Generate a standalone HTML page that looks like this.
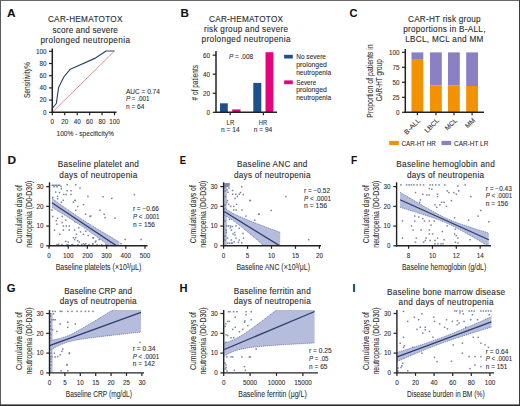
<!DOCTYPE html>
<html><head><meta charset="utf-8">
<style>
html,body{margin:0;padding:0;background:#fff;}
body{width:520px;height:406px;overflow:hidden;}
svg{display:block;font-family:"Liberation Sans",sans-serif;}
</style></head>
<body>
<svg width="520" height="406" viewBox="0 0 520 406">
<rect x="0" y="0" width="520" height="406" fill="#fff"/>
<text x="7.0" y="16.8" font-size="11.2" fill="#111" text-anchor="start" stroke="#111" stroke-width="0.08" font-weight="bold" textLength="8.6" lengthAdjust="spacingAndGlyphs" >A</text>
<text x="85.2" y="21.8" font-size="8.2" fill="#2e2e2e" text-anchor="middle" stroke="#2e2e2e" stroke-width="0.12" textLength="74.6" lengthAdjust="spacing" >CAR-HEMATOTOX</text>
<text x="85.2" y="33.0" font-size="8.2" fill="#2e2e2e" text-anchor="middle" stroke="#2e2e2e" stroke-width="0.12" textLength="65.4" lengthAdjust="spacing" >score and severe</text>
<text x="85.2" y="42.6" font-size="8.2" fill="#2e2e2e" text-anchor="middle" stroke="#2e2e2e" stroke-width="0.12" textLength="89.6" lengthAdjust="spacing" >prolonged neutropenia</text>
<line x1="52.3" y1="112.3" x2="114.5" y2="51.0" stroke="#d77a84" stroke-width="0.85" />
<polyline fill="none" stroke="#26466f" stroke-width="1.15" stroke-linejoin="round" points="52.3,112 52.3,108.5 56.3,103.5 58.6,87.5 63.8,77 70.3,69.2 94.8,58.4 106,51 114.5,51"/>
<line x1="52.3" y1="48.5" x2="52.3" y2="113.05" stroke="#222222" stroke-width="1.5" />
<line x1="51.55" y1="112.3" x2="116.5" y2="112.3" stroke="#222222" stroke-width="1.5" />
<line x1="49.0" y1="112.3" x2="52.3" y2="112.3" stroke="#222222" stroke-width="1.2" />
<text x="46.5" y="114.6" font-size="6.3" fill="#2e2e2e" text-anchor="end" stroke="#2e2e2e" stroke-width="0.08" >0</text>
<line x1="52.3" y1="112.3" x2="52.3" y2="115.3" stroke="#222222" stroke-width="1.2" />
<text x="52.3" y="124.3" font-size="6.3" fill="#2e2e2e" text-anchor="middle" stroke="#2e2e2e" stroke-width="0.08" >0</text>
<line x1="49.0" y1="100.1" x2="52.3" y2="100.1" stroke="#222222" stroke-width="1.2" />
<text x="46.5" y="102.39999999999999" font-size="6.3" fill="#2e2e2e" text-anchor="end" stroke="#2e2e2e" stroke-width="0.08" >20</text>
<line x1="64.74" y1="112.3" x2="64.74" y2="115.3" stroke="#222222" stroke-width="1.2" />
<text x="64.74" y="124.3" font-size="6.3" fill="#2e2e2e" text-anchor="middle" stroke="#2e2e2e" stroke-width="0.08" >20</text>
<line x1="49.0" y1="87.9" x2="52.3" y2="87.9" stroke="#222222" stroke-width="1.2" />
<text x="46.5" y="90.2" font-size="6.3" fill="#2e2e2e" text-anchor="end" stroke="#2e2e2e" stroke-width="0.08" >40</text>
<line x1="77.17999999999999" y1="112.3" x2="77.17999999999999" y2="115.3" stroke="#222222" stroke-width="1.2" />
<text x="77.17999999999999" y="124.3" font-size="6.3" fill="#2e2e2e" text-anchor="middle" stroke="#2e2e2e" stroke-width="0.08" >40</text>
<line x1="49.0" y1="75.69999999999999" x2="52.3" y2="75.69999999999999" stroke="#222222" stroke-width="1.2" />
<text x="46.5" y="77.99999999999999" font-size="6.3" fill="#2e2e2e" text-anchor="end" stroke="#2e2e2e" stroke-width="0.08" >60</text>
<line x1="89.62" y1="112.3" x2="89.62" y2="115.3" stroke="#222222" stroke-width="1.2" />
<text x="89.62" y="124.3" font-size="6.3" fill="#2e2e2e" text-anchor="middle" stroke="#2e2e2e" stroke-width="0.08" >60</text>
<line x1="49.0" y1="63.5" x2="52.3" y2="63.5" stroke="#222222" stroke-width="1.2" />
<text x="46.5" y="65.8" font-size="6.3" fill="#2e2e2e" text-anchor="end" stroke="#2e2e2e" stroke-width="0.08" >80</text>
<line x1="102.06" y1="112.3" x2="102.06" y2="115.3" stroke="#222222" stroke-width="1.2" />
<text x="102.06" y="124.3" font-size="6.3" fill="#2e2e2e" text-anchor="middle" stroke="#2e2e2e" stroke-width="0.08" >80</text>
<line x1="49.0" y1="51.3" x2="52.3" y2="51.3" stroke="#222222" stroke-width="1.2" />
<text x="46.5" y="53.599999999999994" font-size="6.3" fill="#2e2e2e" text-anchor="end" stroke="#2e2e2e" stroke-width="0.08" >100</text>
<line x1="114.5" y1="112.3" x2="114.5" y2="115.3" stroke="#222222" stroke-width="1.2" />
<text x="114.5" y="124.3" font-size="6.3" fill="#2e2e2e" text-anchor="middle" stroke="#2e2e2e" stroke-width="0.08" >100</text>
<text transform="translate(30.0,80.1) rotate(-90)" x="0" y="0" font-size="9" fill="#2e2e2e" text-anchor="middle" stroke="#2e2e2e" stroke-width="0.08" textLength="36" lengthAdjust="spacingAndGlyphs" >Sensitivity%</text>
<text x="85.2" y="135.6" font-size="7.8" fill="#2e2e2e" text-anchor="middle" stroke="#2e2e2e" stroke-width="0.08" textLength="57.5" lengthAdjust="spacingAndGlyphs" >100% - specificity%</text>
<text x="125.9" y="93.6" font-size="6.3" fill="#2e2e2e" text-anchor="start" stroke="#2e2e2e" stroke-width="0.08" textLength="34" lengthAdjust="spacingAndGlyphs" >AUC = 0.74</text>
<text x="125.9" y="101.3" font-size="6.3" fill="#2e2e2e" text-anchor="start" stroke="#2e2e2e" stroke-width="0.08" textLength="23.5" lengthAdjust="spacingAndGlyphs" ><tspan font-style="italic">P</tspan> = .001</text>
<text x="125.9" y="108.8" font-size="6.3" fill="#2e2e2e" text-anchor="start" stroke="#2e2e2e" stroke-width="0.08" textLength="18.6" lengthAdjust="spacingAndGlyphs" >n = 64</text>
<text x="180.4" y="16.6" font-size="11.2" fill="#111" text-anchor="start" stroke="#111" stroke-width="0.08" font-weight="bold" textLength="8.4" lengthAdjust="spacingAndGlyphs" >B</text>
<text x="246.0" y="22.1" font-size="8.2" fill="#2e2e2e" text-anchor="middle" stroke="#2e2e2e" stroke-width="0.12" textLength="74" lengthAdjust="spacing" >CAR-HEMATOTOX</text>
<text x="246.0" y="32.3" font-size="8.2" fill="#2e2e2e" text-anchor="middle" stroke="#2e2e2e" stroke-width="0.12" textLength="84" lengthAdjust="spacing" >risk group and severe</text>
<text x="246.0" y="42.3" font-size="8.2" fill="#2e2e2e" text-anchor="middle" stroke="#2e2e2e" stroke-width="0.12" textLength="89" lengthAdjust="spacing" >prolonged neutropenia</text>
<rect x="220.0" y="103.3" width="7.8" height="9.0" fill="#1d4f8b"/>
<rect x="232.2" y="109.4" width="8.3" height="2.8999999999999915" fill="#e4047f"/>
<rect x="253.3" y="82.9" width="8.0" height="29.39999999999999" fill="#1d4f8b"/>
<rect x="265.5" y="52.2" width="7.9" height="60.099999999999994" fill="#e4047f"/>
<line x1="216.0" y1="50.9" x2="216.0" y2="113.05" stroke="#222222" stroke-width="1.5" />
<line x1="215.25" y1="112.3" x2="277.0" y2="112.3" stroke="#222222" stroke-width="1.5" />
<line x1="212.7" y1="112.3" x2="216.0" y2="112.3" stroke="#222222" stroke-width="1.2" />
<text x="210.1" y="114.8" font-size="6.3" fill="#2e2e2e" text-anchor="end" stroke="#2e2e2e" stroke-width="0.08" >0</text>
<line x1="212.7" y1="93.25999999999999" x2="216.0" y2="93.25999999999999" stroke="#222222" stroke-width="1.2" />
<text x="210.1" y="95.75999999999999" font-size="6.3" fill="#2e2e2e" text-anchor="end" stroke="#2e2e2e" stroke-width="0.08" >20</text>
<line x1="212.7" y1="74.22" x2="216.0" y2="74.22" stroke="#222222" stroke-width="1.2" />
<text x="210.1" y="76.72" font-size="6.3" fill="#2e2e2e" text-anchor="end" stroke="#2e2e2e" stroke-width="0.08" >40</text>
<line x1="212.7" y1="55.18" x2="216.0" y2="55.18" stroke="#222222" stroke-width="1.2" />
<text x="210.1" y="57.68" font-size="6.3" fill="#2e2e2e" text-anchor="end" stroke="#2e2e2e" stroke-width="0.08" >60</text>
<line x1="230.2" y1="112.3" x2="230.2" y2="115.3" stroke="#222222" stroke-width="1.2" />
<line x1="263.4" y1="112.3" x2="263.4" y2="115.3" stroke="#222222" stroke-width="1.2" />
<text transform="translate(197.8,82.7) rotate(-90)" x="0" y="0" font-size="8.6" fill="#2e2e2e" text-anchor="middle" stroke="#2e2e2e" stroke-width="0.08" textLength="35.4" lengthAdjust="spacingAndGlyphs" ># of patients</text>
<text x="241.0" y="59.2" font-size="6.3" fill="#2e2e2e" text-anchor="middle" stroke="#2e2e2e" stroke-width="0.08" textLength="24" lengthAdjust="spacingAndGlyphs" ><tspan font-style="italic">P</tspan> = .008</text>
<text x="230.4" y="124.6" font-size="6.3" fill="#2e2e2e" text-anchor="middle" stroke="#2e2e2e" stroke-width="0.08" textLength="7.7" lengthAdjust="spacingAndGlyphs" >LR</text>
<text x="230.3" y="131.9" font-size="6.3" fill="#2e2e2e" text-anchor="middle" stroke="#2e2e2e" stroke-width="0.08" textLength="18.5" lengthAdjust="spacingAndGlyphs" >n = 14</text>
<text x="263.0" y="124.6" font-size="6.3" fill="#2e2e2e" text-anchor="middle" stroke="#2e2e2e" stroke-width="0.08" textLength="8.3" lengthAdjust="spacingAndGlyphs" >HR</text>
<text x="263.0" y="131.9" font-size="6.3" fill="#2e2e2e" text-anchor="middle" stroke="#2e2e2e" stroke-width="0.08" textLength="18.5" lengthAdjust="spacingAndGlyphs" >n = 94</text>
<rect x="284.1" y="54.8" width="8.7" height="3.7" fill="#1d4f8b"/>
<rect x="284.1" y="80.4" width="8.7" height="3.8" fill="#e4047f"/>
<text x="296.2" y="59.3" font-size="6.6" fill="#2e2e2e" text-anchor="start" stroke="#2e2e2e" stroke-width="0.08" textLength="29.8" lengthAdjust="spacingAndGlyphs" >No severe</text>
<text x="296.2" y="67.0" font-size="6.6" fill="#2e2e2e" text-anchor="start" stroke="#2e2e2e" stroke-width="0.08" textLength="30.7" lengthAdjust="spacingAndGlyphs" >prolonged</text>
<text x="296.2" y="74.5" font-size="6.6" fill="#2e2e2e" text-anchor="start" stroke="#2e2e2e" stroke-width="0.08" textLength="35" lengthAdjust="spacingAndGlyphs" >neutropenia</text>
<text x="296.2" y="84.5" font-size="6.6" fill="#2e2e2e" text-anchor="start" stroke="#2e2e2e" stroke-width="0.08" textLength="20" lengthAdjust="spacingAndGlyphs" >Severe</text>
<text x="296.2" y="92.3" font-size="6.6" fill="#2e2e2e" text-anchor="start" stroke="#2e2e2e" stroke-width="0.08" textLength="30.7" lengthAdjust="spacingAndGlyphs" >prolonged</text>
<text x="296.2" y="99.8" font-size="6.6" fill="#2e2e2e" text-anchor="start" stroke="#2e2e2e" stroke-width="0.08" textLength="35" lengthAdjust="spacingAndGlyphs" >neutropenia</text>
<text x="349.40000000000003" y="16.8" font-size="11.2" fill="#111" text-anchor="start" stroke="#111" stroke-width="0.08" font-weight="bold" textLength="8.0" lengthAdjust="spacingAndGlyphs" >C</text>
<text x="444.3" y="21.9" font-size="8.2" fill="#2e2e2e" text-anchor="middle" stroke="#2e2e2e" stroke-width="0.12" textLength="72.5" lengthAdjust="spacing" >CAR-HT risk group</text>
<text x="444.3" y="32.1" font-size="8.2" fill="#2e2e2e" text-anchor="middle" stroke="#2e2e2e" stroke-width="0.12" textLength="82.3" lengthAdjust="spacing" >proportions in B-ALL,</text>
<text x="444.3" y="42.4" font-size="8.2" fill="#2e2e2e" text-anchor="middle" stroke="#2e2e2e" stroke-width="0.12" textLength="78.2" lengthAdjust="spacing" >LBCL, MCL and MM</text>
<rect x="411.5" y="52.4" width="11.8" height="7.399999999999999" fill="#8a80c3"/>
<rect x="411.5" y="59.8" width="11.8" height="52.5" fill="#f39200"/>
<rect x="430.0" y="52.4" width="11.8" height="32.800000000000004" fill="#8a80c3"/>
<rect x="430.0" y="85.2" width="11.8" height="27.099999999999994" fill="#f39200"/>
<rect x="448.0" y="52.4" width="11.8" height="32.800000000000004" fill="#8a80c3"/>
<rect x="448.0" y="85.2" width="11.8" height="27.099999999999994" fill="#f39200"/>
<rect x="466.2" y="52.4" width="11.8" height="33.6" fill="#8a80c3"/>
<rect x="466.2" y="86.0" width="11.8" height="26.299999999999997" fill="#f39200"/>
<line x1="405.3" y1="49.0" x2="405.3" y2="113.05" stroke="#222222" stroke-width="1.5" />
<line x1="404.55" y1="112.3" x2="484.0" y2="112.3" stroke="#222222" stroke-width="1.5" />
<line x1="402.0" y1="112.3" x2="405.3" y2="112.3" stroke="#222222" stroke-width="1.2" />
<text x="399.40000000000003" y="114.7" font-size="6.3" fill="#2e2e2e" text-anchor="end" stroke="#2e2e2e" stroke-width="0.08" >0</text>
<line x1="402.0" y1="97.3" x2="405.3" y2="97.3" stroke="#222222" stroke-width="1.2" />
<text x="399.40000000000003" y="99.7" font-size="6.3" fill="#2e2e2e" text-anchor="end" stroke="#2e2e2e" stroke-width="0.08" >25</text>
<line x1="402.0" y1="82.3" x2="405.3" y2="82.3" stroke="#222222" stroke-width="1.2" />
<text x="399.40000000000003" y="84.7" font-size="6.3" fill="#2e2e2e" text-anchor="end" stroke="#2e2e2e" stroke-width="0.08" >50</text>
<line x1="402.0" y1="67.3" x2="405.3" y2="67.3" stroke="#222222" stroke-width="1.2" />
<text x="399.40000000000003" y="69.7" font-size="6.3" fill="#2e2e2e" text-anchor="end" stroke="#2e2e2e" stroke-width="0.08" >75</text>
<line x1="402.0" y1="52.3" x2="405.3" y2="52.3" stroke="#222222" stroke-width="1.2" />
<text x="399.40000000000003" y="54.699999999999996" font-size="6.3" fill="#2e2e2e" text-anchor="end" stroke="#2e2e2e" stroke-width="0.08" >100</text>
<line x1="417.4" y1="112.3" x2="417.4" y2="115.3" stroke="#222222" stroke-width="1.2" />
<text transform="translate(420.9,120.8) rotate(-45)" x="0" y="0" font-size="6.6" fill="#2e2e2e" text-anchor="end" stroke="#2e2e2e" stroke-width="0.08" textLength="20" lengthAdjust="spacingAndGlyphs" >B-ALL</text>
<line x1="436.0" y1="112.3" x2="436.0" y2="115.3" stroke="#222222" stroke-width="1.2" />
<text transform="translate(439.5,120.8) rotate(-45)" x="0" y="0" font-size="6.6" fill="#2e2e2e" text-anchor="end" stroke="#2e2e2e" stroke-width="0.08" textLength="17.5" lengthAdjust="spacingAndGlyphs" >LBCL</text>
<line x1="454.0" y1="112.3" x2="454.0" y2="115.3" stroke="#222222" stroke-width="1.2" />
<text transform="translate(457.5,120.8) rotate(-45)" x="0" y="0" font-size="6.6" fill="#2e2e2e" text-anchor="end" stroke="#2e2e2e" stroke-width="0.08" textLength="14" lengthAdjust="spacingAndGlyphs" >MCL</text>
<line x1="472.1" y1="112.3" x2="472.1" y2="115.3" stroke="#222222" stroke-width="1.2" />
<text transform="translate(475.6,120.8) rotate(-45)" x="0" y="0" font-size="6.6" fill="#2e2e2e" text-anchor="end" stroke="#2e2e2e" stroke-width="0.08" textLength="11" lengthAdjust="spacingAndGlyphs" >MM</text>
<text transform="translate(372.6,81.0) rotate(-90)" x="0" y="0" font-size="9.2" fill="#2e2e2e" text-anchor="middle" stroke="#2e2e2e" stroke-width="0.08" textLength="73.3" lengthAdjust="spacingAndGlyphs" >Proportion of patients in</text>
<text transform="translate(381.8,80.3) rotate(-90)" x="0" y="0" font-size="9.2" fill="#2e2e2e" text-anchor="middle" stroke="#2e2e2e" stroke-width="0.08" textLength="42.0" lengthAdjust="spacingAndGlyphs" >CAR-HT group</text>
<rect x="389.2" y="140.9" width="9.6" height="4.2" fill="#f39200"/>
<text x="401.5" y="145.5" font-size="6.6" fill="#2e2e2e" text-anchor="start" stroke="#2e2e2e" stroke-width="0.08" textLength="34.3" lengthAdjust="spacingAndGlyphs" >CAR-HT HR</text>
<rect x="441.5" y="140.9" width="9.7" height="4.2" fill="#8a80c3"/>
<text x="454.0" y="145.5" font-size="6.6" fill="#2e2e2e" text-anchor="start" stroke="#2e2e2e" stroke-width="0.08" textLength="34.3" lengthAdjust="spacingAndGlyphs" >CAR-HT LR</text>
<text x="7.3999999999999995" y="163.8" font-size="11.2" fill="#111" text-anchor="start" stroke="#111" stroke-width="0.08" font-weight="bold" textLength="8.6" lengthAdjust="spacingAndGlyphs" >D</text>
<text x="98.3" y="166.8" font-size="8.2" fill="#2e2e2e" text-anchor="middle" stroke="#2e2e2e" stroke-width="0.12" textLength="81" lengthAdjust="spacing" >Baseline platelet and</text>
<text x="98.3" y="177.8" font-size="8.2" fill="#2e2e2e" text-anchor="middle" stroke="#2e2e2e" stroke-width="0.12" textLength="78" lengthAdjust="spacing" >days of neutropenia</text>
<rect x="51.55" y="184.55" width="1.5" height="1.5" fill="#7a82a3"/>
<rect x="53.05" y="184.55" width="1.5" height="1.5" fill="#7a82a3"/>
<rect x="54.55" y="184.55" width="1.5" height="1.5" fill="#7a82a3"/>
<rect x="56.05" y="184.55" width="1.5" height="1.5" fill="#7a82a3"/>
<rect x="57.55" y="184.55" width="1.5" height="1.5" fill="#7a82a3"/>
<rect x="59.05" y="184.55" width="1.5" height="1.5" fill="#7a82a3"/>
<rect x="60.25" y="185.75" width="1.5" height="1.5" fill="#7a82a3"/>
<rect x="53.25" y="186.05" width="1.5" height="1.5" fill="#7a82a3"/>
<rect x="56.25" y="186.05" width="1.5" height="1.5" fill="#7a82a3"/>
<rect x="66.45" y="183.95" width="1.5" height="1.5" fill="#7a82a3"/>
<rect x="75.05" y="183.95" width="1.5" height="1.5" fill="#7a82a3"/>
<rect x="60.65" y="187.95" width="1.5" height="1.5" fill="#7a82a3"/>
<rect x="66.45" y="189.95" width="1.5" height="1.5" fill="#7a82a3"/>
<rect x="70.25" y="189.95" width="1.5" height="1.5" fill="#7a82a3"/>
<rect x="54.95" y="191.35" width="1.5" height="1.5" fill="#7a82a3"/>
<rect x="58.75" y="191.85" width="1.5" height="1.5" fill="#7a82a3"/>
<rect x="63.05" y="193.75" width="1.5" height="1.5" fill="#7a82a3"/>
<rect x="65.45" y="193.75" width="1.5" height="1.5" fill="#7a82a3"/>
<rect x="70.25" y="193.75" width="1.5" height="1.5" fill="#7a82a3"/>
<rect x="56.85" y="195.65" width="1.5" height="1.5" fill="#7a82a3"/>
<rect x="87.15" y="195.65" width="1.5" height="1.5" fill="#7a82a3"/>
<rect x="52.05" y="196.65" width="1.5" height="1.5" fill="#7a82a3"/>
<rect x="56.85" y="198.05" width="1.5" height="1.5" fill="#7a82a3"/>
<rect x="62.55" y="199.55" width="1.5" height="1.5" fill="#7a82a3"/>
<rect x="74.15" y="199.55" width="1.5" height="1.5" fill="#7a82a3"/>
<rect x="72.65" y="201.45" width="1.5" height="1.5" fill="#7a82a3"/>
<rect x="60.65" y="201.45" width="1.5" height="1.5" fill="#7a82a3"/>
<rect x="82.75" y="203.85" width="1.5" height="1.5" fill="#7a82a3"/>
<rect x="77.05" y="205.75" width="1.5" height="1.5" fill="#7a82a3"/>
<rect x="75.05" y="209.65" width="1.5" height="1.5" fill="#7a82a3"/>
<rect x="84.75" y="213.45" width="1.5" height="1.5" fill="#7a82a3"/>
<rect x="74.45" y="199.85" width="1.5" height="1.5" fill="#7a82a3"/>
<rect x="89.25" y="215.75" width="1.5" height="1.5" fill="#7a82a3"/>
<rect x="51.95" y="215.75" width="1.5" height="1.5" fill="#7a82a3"/>
<rect x="61.45" y="215.75" width="1.5" height="1.5" fill="#7a82a3"/>
<rect x="56.75" y="217.55" width="1.5" height="1.5" fill="#7a82a3"/>
<rect x="55.55" y="219.95" width="1.5" height="1.5" fill="#7a82a3"/>
<rect x="64.95" y="219.35" width="1.5" height="1.5" fill="#7a82a3"/>
<rect x="72.65" y="218.75" width="1.5" height="1.5" fill="#7a82a3"/>
<rect x="74.45" y="221.15" width="1.5" height="1.5" fill="#7a82a3"/>
<rect x="61.45" y="221.75" width="1.5" height="1.5" fill="#7a82a3"/>
<rect x="56.15" y="223.45" width="1.5" height="1.5" fill="#7a82a3"/>
<rect x="62.65" y="225.25" width="1.5" height="1.5" fill="#7a82a3"/>
<rect x="65.55" y="225.25" width="1.5" height="1.5" fill="#7a82a3"/>
<rect x="68.55" y="225.25" width="1.5" height="1.5" fill="#7a82a3"/>
<rect x="77.95" y="227.05" width="1.5" height="1.5" fill="#7a82a3"/>
<rect x="53.75" y="229.35" width="1.5" height="1.5" fill="#7a82a3"/>
<rect x="62.65" y="229.35" width="1.5" height="1.5" fill="#7a82a3"/>
<rect x="68.55" y="229.35" width="1.5" height="1.5" fill="#7a82a3"/>
<rect x="73.85" y="229.35" width="1.5" height="1.5" fill="#7a82a3"/>
<rect x="79.75" y="231.15" width="1.5" height="1.5" fill="#7a82a3"/>
<rect x="85.05" y="230.55" width="1.5" height="1.5" fill="#7a82a3"/>
<rect x="59.05" y="233.55" width="1.5" height="1.5" fill="#7a82a3"/>
<rect x="75.65" y="233.55" width="1.5" height="1.5" fill="#7a82a3"/>
<rect x="82.75" y="233.55" width="1.5" height="1.5" fill="#7a82a3"/>
<rect x="87.45" y="234.75" width="1.5" height="1.5" fill="#7a82a3"/>
<rect x="92.15" y="237.05" width="1.5" height="1.5" fill="#7a82a3"/>
<rect x="72.65" y="237.05" width="1.5" height="1.5" fill="#7a82a3"/>
<rect x="75.05" y="237.05" width="1.5" height="1.5" fill="#7a82a3"/>
<rect x="73.85" y="238.85" width="1.5" height="1.5" fill="#7a82a3"/>
<rect x="76.85" y="240.05" width="1.5" height="1.5" fill="#7a82a3"/>
<rect x="64.95" y="240.65" width="1.5" height="1.5" fill="#7a82a3"/>
<rect x="67.35" y="241.25" width="1.5" height="1.5" fill="#7a82a3"/>
<rect x="78.55" y="241.25" width="1.5" height="1.5" fill="#7a82a3"/>
<rect x="57.85" y="243.55" width="1.5" height="1.5" fill="#7a82a3"/>
<rect x="66.15" y="244.15" width="1.5" height="1.5" fill="#7a82a3"/>
<rect x="70.85" y="244.15" width="1.5" height="1.5" fill="#7a82a3"/>
<rect x="82.75" y="242.95" width="1.5" height="1.5" fill="#7a82a3"/>
<rect x="85.05" y="242.95" width="1.5" height="1.5" fill="#7a82a3"/>
<rect x="92.15" y="242.95" width="1.5" height="1.5" fill="#7a82a3"/>
<rect x="94.55" y="241.25" width="1.5" height="1.5" fill="#7a82a3"/>
<rect x="102.35" y="196.05" width="1.5" height="1.5" fill="#7a82a3"/>
<rect x="111.05" y="197.65" width="1.5" height="1.5" fill="#7a82a3"/>
<rect x="133.65" y="193.95" width="1.5" height="1.5" fill="#7a82a3"/>
<rect x="99.25" y="209.45" width="1.5" height="1.5" fill="#7a82a3"/>
<rect x="103.45" y="213.55" width="1.5" height="1.5" fill="#7a82a3"/>
<rect x="104.35" y="216.95" width="1.5" height="1.5" fill="#7a82a3"/>
<rect x="114.35" y="217.45" width="1.5" height="1.5" fill="#7a82a3"/>
<rect x="90.05" y="215.25" width="1.5" height="1.5" fill="#7a82a3"/>
<rect x="124.45" y="238.75" width="1.5" height="1.5" fill="#7a82a3"/>
<rect x="140.35" y="238.75" width="1.5" height="1.5" fill="#7a82a3"/>
<rect x="92.65" y="237.05" width="1.5" height="1.5" fill="#7a82a3"/>
<rect x="95.15" y="240.35" width="1.5" height="1.5" fill="#7a82a3"/>
<rect x="98.45" y="238.75" width="1.5" height="1.5" fill="#7a82a3"/>
<rect x="120.25" y="242.95" width="1.5" height="1.5" fill="#7a82a3"/>
<rect x="79.25" y="187.25" width="1.5" height="1.5" fill="#7a82a3"/>
<rect x="68.25" y="211.25" width="1.5" height="1.5" fill="#7a82a3"/>
<rect x="59.25" y="205.25" width="1.5" height="1.5" fill="#7a82a3"/>
<rect x="51.25" y="209.25" width="1.5" height="1.5" fill="#7a82a3"/>
<rect x="56.25" y="243.85" width="1.5" height="1.5" fill="#7a82a3"/>
<rect x="61.25" y="243.85" width="1.5" height="1.5" fill="#7a82a3"/>
<rect x="67.25" y="243.85" width="1.5" height="1.5" fill="#7a82a3"/>
<rect x="71.85" y="243.85" width="1.5" height="1.5" fill="#7a82a3"/>
<rect x="77.25" y="243.85" width="1.5" height="1.5" fill="#7a82a3"/>
<rect x="81.05" y="243.85" width="1.5" height="1.5" fill="#7a82a3"/>
<rect x="84.15" y="243.85" width="1.5" height="1.5" fill="#7a82a3"/>
<rect x="88.25" y="243.85" width="1.5" height="1.5" fill="#7a82a3"/>
<rect x="91.85" y="243.85" width="1.5" height="1.5" fill="#7a82a3"/>
<rect x="96.45" y="243.85" width="1.5" height="1.5" fill="#7a82a3"/>
<rect x="101.05" y="243.85" width="1.5" height="1.5" fill="#7a82a3"/>
<rect x="105.25" y="243.85" width="1.5" height="1.5" fill="#7a82a3"/>
<rect x="110.25" y="243.85" width="1.5" height="1.5" fill="#7a82a3"/>
<clipPath id="clipD"><rect x="49.5" y="183.0" width="98.0" height="62.80000000000001"/></clipPath>
<g clip-path="url(#clipD)">
<polygon fill="#b6bcdc" points="51.90,198.28 53.59,199.52 55.27,200.75 56.96,201.98 58.65,203.20 60.34,204.41 62.02,205.62 63.71,206.82 65.40,208.02 67.09,209.20 68.78,210.38 70.46,211.55 72.15,212.71 73.84,213.86 75.53,215.00 77.21,216.13 78.90,217.26 80.59,218.37 82.28,219.47 83.96,220.56 85.65,221.65 87.34,222.72 89.03,223.79 90.71,224.85 92.40,225.90 94.09,226.94 95.78,227.98 97.46,229.01 99.15,230.03 100.84,231.05 102.53,232.06 104.21,233.07 105.90,234.07 107.59,235.07 109.28,236.06 110.96,237.05 112.65,238.04 114.34,239.03 116.03,240.01 117.71,240.99 119.40,241.97 119.40,253.42 117.71,252.15 116.03,250.89 114.34,249.63 112.65,248.37 110.96,247.11 109.28,245.86 107.59,244.61 105.90,243.36 104.21,242.12 102.53,240.88 100.84,239.65 99.15,238.42 97.46,237.20 95.78,235.99 94.09,234.78 92.40,233.58 90.71,232.38 89.03,231.19 87.34,230.02 85.65,228.85 83.96,227.69 82.28,226.53 80.59,225.39 78.90,224.26 77.21,223.14 75.53,222.02 73.84,220.92 72.15,219.83 70.46,218.74 68.78,217.67 67.09,216.60 65.40,215.54 63.71,214.49 62.02,213.45 60.34,212.41 58.65,211.38 56.96,210.36 55.27,209.34 53.59,208.33 51.90,207.32"/>
<polyline fill="none" stroke="#56679f" stroke-width="0.7" stroke-dasharray="1.2,0.8" points="51.90,198.28 53.59,199.52 55.27,200.75 56.96,201.98 58.65,203.20 60.34,204.41 62.02,205.62 63.71,206.82 65.40,208.02 67.09,209.20 68.78,210.38 70.46,211.55 72.15,212.71 73.84,213.86 75.53,215.00 77.21,216.13 78.90,217.26 80.59,218.37 82.28,219.47 83.96,220.56 85.65,221.65 87.34,222.72 89.03,223.79 90.71,224.85 92.40,225.90 94.09,226.94 95.78,227.98 97.46,229.01 99.15,230.03 100.84,231.05 102.53,232.06 104.21,233.07 105.90,234.07 107.59,235.07 109.28,236.06 110.96,237.05 112.65,238.04 114.34,239.03 116.03,240.01 117.71,240.99 119.40,241.97"/>
<polyline fill="none" stroke="#56679f" stroke-width="0.7" stroke-dasharray="1.2,0.8" points="51.90,207.32 53.59,208.33 55.27,209.34 56.96,210.36 58.65,211.38 60.34,212.41 62.02,213.45 63.71,214.49 65.40,215.54 67.09,216.60 68.78,217.67 70.46,218.74 72.15,219.83 73.84,220.92 75.53,222.02 77.21,223.14 78.90,224.26 80.59,225.39 82.28,226.53 83.96,227.69 85.65,228.85 87.34,230.02 89.03,231.19 90.71,232.38 92.40,233.58 94.09,234.78 95.78,235.99 97.46,237.20 99.15,238.42 100.84,239.65 102.53,240.88 104.21,242.12 105.90,243.36 107.59,244.61 109.28,245.86 110.96,247.11 112.65,248.37 114.34,249.63 116.03,250.89 117.71,252.15 119.40,253.42"/>
<line x1="51.9" y1="202.8" x2="119.4" y2="247.6938679245283" stroke="#2a3d6a" stroke-width="1.25" />
</g>
<line x1="49.5" y1="182.3" x2="49.5" y2="246.5" stroke="#222222" stroke-width="1.4" />
<line x1="48.8" y1="245.8" x2="147.5" y2="245.8" stroke="#222222" stroke-width="1.4" />
<line x1="46.2" y1="245.8" x2="49.5" y2="245.8" stroke="#222222" stroke-width="1.2" />
<text x="43.5" y="248.0" font-size="6.3" fill="#2e2e2e" text-anchor="end" stroke="#2e2e2e" stroke-width="0.08" >0</text>
<line x1="46.2" y1="226.07000000000002" x2="49.5" y2="226.07000000000002" stroke="#222222" stroke-width="1.2" />
<text x="43.5" y="228.27" font-size="6.3" fill="#2e2e2e" text-anchor="end" stroke="#2e2e2e" stroke-width="0.08" >10</text>
<line x1="46.2" y1="206.34" x2="49.5" y2="206.34" stroke="#222222" stroke-width="1.2" />
<text x="43.5" y="208.54" font-size="6.3" fill="#2e2e2e" text-anchor="end" stroke="#2e2e2e" stroke-width="0.08" >20</text>
<line x1="46.2" y1="186.61" x2="49.5" y2="186.61" stroke="#222222" stroke-width="1.2" />
<text x="43.5" y="188.81" font-size="6.3" fill="#2e2e2e" text-anchor="end" stroke="#2e2e2e" stroke-width="0.08" >30</text>
<line x1="49.0" y1="245.8" x2="49.0" y2="248.8" stroke="#222222" stroke-width="1.2" />
<text x="49.0" y="257.5" font-size="6.3" fill="#2e2e2e" text-anchor="middle" stroke="#2e2e2e" stroke-width="0.08" >0</text>
<line x1="68.2" y1="245.8" x2="68.2" y2="248.8" stroke="#222222" stroke-width="1.2" />
<text x="68.2" y="257.5" font-size="6.3" fill="#2e2e2e" text-anchor="middle" stroke="#2e2e2e" stroke-width="0.08" >100</text>
<line x1="87.4" y1="245.8" x2="87.4" y2="248.8" stroke="#222222" stroke-width="1.2" />
<text x="87.4" y="257.5" font-size="6.3" fill="#2e2e2e" text-anchor="middle" stroke="#2e2e2e" stroke-width="0.08" >200</text>
<line x1="106.6" y1="245.8" x2="106.6" y2="248.8" stroke="#222222" stroke-width="1.2" />
<text x="106.6" y="257.5" font-size="6.3" fill="#2e2e2e" text-anchor="middle" stroke="#2e2e2e" stroke-width="0.08" >300</text>
<line x1="125.8" y1="245.8" x2="125.8" y2="248.8" stroke="#222222" stroke-width="1.2" />
<text x="125.8" y="257.5" font-size="6.3" fill="#2e2e2e" text-anchor="middle" stroke="#2e2e2e" stroke-width="0.08" >400</text>
<line x1="145.0" y1="245.8" x2="145.0" y2="248.8" stroke="#222222" stroke-width="1.2" />
<text x="145.0" y="257.5" font-size="6.3" fill="#2e2e2e" text-anchor="middle" stroke="#2e2e2e" stroke-width="0.08" >500</text>
<text transform="translate(21.5,214.2) rotate(-90)" x="0" y="0" font-size="9" fill="#2e2e2e" text-anchor="middle" stroke="#2e2e2e" stroke-width="0.08" textLength="58" lengthAdjust="spacingAndGlyphs" >Cumulative days of</text>
<text transform="translate(31.5,214.2) rotate(-90)" x="0" y="0" font-size="9" fill="#2e2e2e" text-anchor="middle" stroke="#2e2e2e" stroke-width="0.08" textLength="67" lengthAdjust="spacingAndGlyphs" >neutropenia (D0-D30)</text>
<text x="98.5" y="269.7" font-size="9.3" fill="#2e2e2e" text-anchor="middle" stroke="#2e2e2e" stroke-width="0.08" textLength="85.7" lengthAdjust="spacingAndGlyphs" >Baseline platelets (×10³/μL)</text>
<text x="132.9" y="211.0" font-size="6.3" fill="#2e2e2e" text-anchor="start" stroke="#2e2e2e" stroke-width="0.08" textLength="26.1" lengthAdjust="spacingAndGlyphs" >r = −0.66</text>
<text x="132.9" y="218.8" font-size="6.3" fill="#2e2e2e" text-anchor="start" stroke="#2e2e2e" stroke-width="0.08" textLength="26.5" lengthAdjust="spacingAndGlyphs" ><tspan font-style="italic">P</tspan> &lt; .0001</text>
<text x="132.9" y="226.5" font-size="6.3" fill="#2e2e2e" text-anchor="start" stroke="#2e2e2e" stroke-width="0.08" textLength="22.1" lengthAdjust="spacingAndGlyphs" >n = 156</text>
<text x="179.7" y="163.8" font-size="11.2" fill="#111" text-anchor="start" stroke="#111" stroke-width="0.08" font-weight="bold" textLength="6.3" lengthAdjust="spacingAndGlyphs" >E</text>
<text x="272.2" y="167.0" font-size="8.2" fill="#2e2e2e" text-anchor="middle" stroke="#2e2e2e" stroke-width="0.12" textLength="70.4" lengthAdjust="spacing" >Baseline ANC and</text>
<text x="272.2" y="178.20000000000002" font-size="8.2" fill="#2e2e2e" text-anchor="middle" stroke="#2e2e2e" stroke-width="0.12" textLength="76.5" lengthAdjust="spacing" >days of neutropenia</text>
<rect x="224.4" y="186" width="2.4" height="59" fill="#b4bcdc"/>
<rect x="224.4" y="183.2" width="5.2" height="3.6" fill="#8e97bb"/>
<rect x="240.95" y="185.95" width="1.5" height="1.5" fill="#7a82a3"/>
<rect x="231.85" y="189.75" width="1.5" height="1.5" fill="#7a82a3"/>
<rect x="227.25" y="191.45" width="1.5" height="1.5" fill="#7a82a3"/>
<rect x="239.75" y="191.85" width="1.5" height="1.5" fill="#7a82a3"/>
<rect x="231.85" y="193.45" width="1.5" height="1.5" fill="#7a82a3"/>
<rect x="235.05" y="193.45" width="1.5" height="1.5" fill="#7a82a3"/>
<rect x="238.55" y="193.45" width="1.5" height="1.5" fill="#7a82a3"/>
<rect x="242.55" y="193.85" width="1.5" height="1.5" fill="#7a82a3"/>
<rect x="224.75" y="195.85" width="1.5" height="1.5" fill="#7a82a3"/>
<rect x="236.65" y="195.85" width="1.5" height="1.5" fill="#7a82a3"/>
<rect x="234.25" y="197.75" width="1.5" height="1.5" fill="#7a82a3"/>
<rect x="249.25" y="199.75" width="1.5" height="1.5" fill="#7a82a3"/>
<rect x="226.75" y="199.75" width="1.5" height="1.5" fill="#7a82a3"/>
<rect x="225.95" y="201.75" width="1.5" height="1.5" fill="#7a82a3"/>
<rect x="227.95" y="203.65" width="1.5" height="1.5" fill="#7a82a3"/>
<rect x="235.85" y="203.65" width="1.5" height="1.5" fill="#7a82a3"/>
<rect x="229.95" y="205.65" width="1.5" height="1.5" fill="#7a82a3"/>
<rect x="233.05" y="205.65" width="1.5" height="1.5" fill="#7a82a3"/>
<rect x="233.05" y="209.25" width="1.5" height="1.5" fill="#7a82a3"/>
<rect x="235.45" y="209.25" width="1.5" height="1.5" fill="#7a82a3"/>
<rect x="241.25" y="209.25" width="1.5" height="1.5" fill="#7a82a3"/>
<rect x="245.15" y="215.35" width="1.5" height="1.5" fill="#7a82a3"/>
<rect x="257.75" y="213.45" width="1.5" height="1.5" fill="#7a82a3"/>
<rect x="254.05" y="219.55" width="1.5" height="1.5" fill="#7a82a3"/>
<rect x="228.75" y="218.65" width="1.5" height="1.5" fill="#7a82a3"/>
<rect x="225.95" y="225.15" width="1.5" height="1.5" fill="#7a82a3"/>
<rect x="227.75" y="225.15" width="1.5" height="1.5" fill="#7a82a3"/>
<rect x="229.75" y="225.15" width="1.5" height="1.5" fill="#7a82a3"/>
<rect x="231.55" y="225.75" width="1.5" height="1.5" fill="#7a82a3"/>
<rect x="235.25" y="225.15" width="1.5" height="1.5" fill="#7a82a3"/>
<rect x="229.65" y="227.05" width="1.5" height="1.5" fill="#7a82a3"/>
<rect x="238.55" y="227.55" width="1.5" height="1.5" fill="#7a82a3"/>
<rect x="225.45" y="229.35" width="1.5" height="1.5" fill="#7a82a3"/>
<rect x="225.45" y="231.75" width="1.5" height="1.5" fill="#7a82a3"/>
<rect x="230.65" y="229.35" width="1.5" height="1.5" fill="#7a82a3"/>
<rect x="233.85" y="231.75" width="1.5" height="1.5" fill="#7a82a3"/>
<rect x="242.25" y="232.75" width="1.5" height="1.5" fill="#7a82a3"/>
<rect x="234.25" y="234.25" width="1.5" height="1.5" fill="#7a82a3"/>
<rect x="232.25" y="233.25" width="1.5" height="1.5" fill="#7a82a3"/>
<rect x="226.85" y="237.35" width="1.5" height="1.5" fill="#7a82a3"/>
<rect x="230.65" y="239.25" width="1.5" height="1.5" fill="#7a82a3"/>
<rect x="235.25" y="237.35" width="1.5" height="1.5" fill="#7a82a3"/>
<rect x="238.55" y="239.25" width="1.5" height="1.5" fill="#7a82a3"/>
<rect x="242.75" y="237.35" width="1.5" height="1.5" fill="#7a82a3"/>
<rect x="226.85" y="242.45" width="1.5" height="1.5" fill="#7a82a3"/>
<rect x="228.75" y="242.45" width="1.5" height="1.5" fill="#7a82a3"/>
<rect x="230.65" y="242.45" width="1.5" height="1.5" fill="#7a82a3"/>
<rect x="231.55" y="242.45" width="1.5" height="1.5" fill="#7a82a3"/>
<rect x="233.45" y="241.05" width="1.5" height="1.5" fill="#7a82a3"/>
<rect x="237.65" y="241.55" width="1.5" height="1.5" fill="#7a82a3"/>
<rect x="240.95" y="242.05" width="1.5" height="1.5" fill="#7a82a3"/>
<rect x="285.15" y="195.85" width="1.5" height="1.5" fill="#7a82a3"/>
<rect x="270.55" y="209.75" width="1.5" height="1.5" fill="#7a82a3"/>
<rect x="258.35" y="213.45" width="1.5" height="1.5" fill="#7a82a3"/>
<rect x="307.95" y="238.95" width="1.5" height="1.5" fill="#7a82a3"/>
<rect x="249.65" y="199.85" width="1.5" height="1.5" fill="#7a82a3"/>
<rect x="224.25" y="187.25" width="1.5" height="1.5" fill="#7a82a3"/>
<rect x="224.25" y="190.25" width="1.5" height="1.5" fill="#7a82a3"/>
<rect x="224.25" y="204.25" width="1.5" height="1.5" fill="#7a82a3"/>
<rect x="224.25" y="208.25" width="1.5" height="1.5" fill="#7a82a3"/>
<rect x="224.25" y="212.25" width="1.5" height="1.5" fill="#7a82a3"/>
<rect x="224.25" y="220.25" width="1.5" height="1.5" fill="#7a82a3"/>
<rect x="224.25" y="235.25" width="1.5" height="1.5" fill="#7a82a3"/>
<rect x="224.25" y="239.25" width="1.5" height="1.5" fill="#7a82a3"/>
<rect x="226.25" y="189.25" width="1.5" height="1.5" fill="#7a82a3"/>
<rect x="228.25" y="187.25" width="1.5" height="1.5" fill="#7a82a3"/>
<rect x="223.75" y="183.25" width="1.5" height="1.5" fill="#7a82a3"/>
<rect x="225.25" y="183.25" width="1.5" height="1.5" fill="#7a82a3"/>
<rect x="226.75" y="183.25" width="1.5" height="1.5" fill="#7a82a3"/>
<rect x="228.25" y="183.25" width="1.5" height="1.5" fill="#7a82a3"/>
<rect x="223.75" y="185.25" width="1.5" height="1.5" fill="#7a82a3"/>
<rect x="225.25" y="185.25" width="1.5" height="1.5" fill="#7a82a3"/>
<rect x="226.75" y="185.25" width="1.5" height="1.5" fill="#7a82a3"/>
<clipPath id="clipE"><rect x="223.6" y="183.0" width="97.4" height="62.80000000000001"/></clipPath>
<g clip-path="url(#clipE)">
<polygon fill="#b6bcdc" points="224.30,207.97 225.70,208.92 227.09,209.82 228.49,210.70 229.89,211.53 231.29,212.33 232.69,213.09 234.08,213.82 235.48,214.53 236.88,215.21 238.28,215.87 239.67,216.51 241.07,217.13 242.47,217.74 243.87,218.34 245.26,218.93 246.66,219.51 248.06,220.08 249.46,220.64 250.85,221.21 252.25,221.76 253.65,222.31 255.04,222.86 256.44,223.41 257.84,223.95 259.24,224.49 260.63,225.02 262.03,225.56 263.43,226.09 264.83,226.62 266.23,227.15 267.62,227.68 269.02,228.21 270.42,228.74 271.81,229.26 273.21,229.79 274.61,230.31 276.01,230.83 277.40,231.36 278.80,231.88 280.20,232.40 280.20,259.87 278.80,258.66 277.40,257.45 276.01,256.24 274.61,255.03 273.21,253.82 271.81,252.62 270.42,251.41 269.02,250.20 267.62,249.00 266.23,247.80 264.83,246.60 263.43,245.40 262.03,244.20 260.63,243.00 259.24,241.81 257.84,240.61 256.44,239.42 255.04,238.24 253.65,237.05 252.25,235.87 250.85,234.70 249.46,233.53 248.06,232.36 246.66,231.20 245.26,230.05 243.87,228.91 242.47,227.77 241.07,226.65 239.67,225.54 238.28,224.45 236.88,223.38 235.48,222.33 234.08,221.30 232.69,220.30 231.29,219.33 229.89,218.40 228.49,217.50 227.09,216.64 225.70,215.82 224.30,215.03"/>
<polyline fill="none" stroke="#56679f" stroke-width="0.7" stroke-dasharray="1.2,0.8" points="224.30,207.97 225.70,208.92 227.09,209.82 228.49,210.70 229.89,211.53 231.29,212.33 232.69,213.09 234.08,213.82 235.48,214.53 236.88,215.21 238.28,215.87 239.67,216.51 241.07,217.13 242.47,217.74 243.87,218.34 245.26,218.93 246.66,219.51 248.06,220.08 249.46,220.64 250.85,221.21 252.25,221.76 253.65,222.31 255.04,222.86 256.44,223.41 257.84,223.95 259.24,224.49 260.63,225.02 262.03,225.56 263.43,226.09 264.83,226.62 266.23,227.15 267.62,227.68 269.02,228.21 270.42,228.74 271.81,229.26 273.21,229.79 274.61,230.31 276.01,230.83 277.40,231.36 278.80,231.88 280.20,232.40"/>
<polyline fill="none" stroke="#56679f" stroke-width="0.7" stroke-dasharray="1.2,0.8" points="224.30,215.03 225.70,215.82 227.09,216.64 228.49,217.50 229.89,218.40 231.29,219.33 232.69,220.30 234.08,221.30 235.48,222.33 236.88,223.38 238.28,224.45 239.67,225.54 241.07,226.65 242.47,227.77 243.87,228.91 245.26,230.05 246.66,231.20 248.06,232.36 249.46,233.53 250.85,234.70 252.25,235.87 253.65,237.05 255.04,238.24 256.44,239.42 257.84,240.61 259.24,241.81 260.63,243.00 262.03,244.20 263.43,245.40 264.83,246.60 266.23,247.80 267.62,249.00 269.02,250.20 270.42,251.41 271.81,252.62 273.21,253.82 274.61,255.03 276.01,256.24 277.40,257.45 278.80,258.66 280.20,259.87"/>
<line x1="224.3" y1="211.5" x2="280.2" y2="246.1336956521739" stroke="#2a3d6a" stroke-width="1.25" />
</g>
<line x1="223.6" y1="182.3" x2="223.6" y2="246.5" stroke="#222222" stroke-width="1.4" />
<line x1="222.9" y1="245.8" x2="321.0" y2="245.8" stroke="#222222" stroke-width="1.4" />
<line x1="220.29999999999998" y1="245.8" x2="223.6" y2="245.8" stroke="#222222" stroke-width="1.2" />
<text x="217.6" y="248.0" font-size="6.3" fill="#2e2e2e" text-anchor="end" stroke="#2e2e2e" stroke-width="0.08" >0</text>
<line x1="220.29999999999998" y1="226.07000000000002" x2="223.6" y2="226.07000000000002" stroke="#222222" stroke-width="1.2" />
<text x="217.6" y="228.27" font-size="6.3" fill="#2e2e2e" text-anchor="end" stroke="#2e2e2e" stroke-width="0.08" >10</text>
<line x1="220.29999999999998" y1="206.34" x2="223.6" y2="206.34" stroke="#222222" stroke-width="1.2" />
<text x="217.6" y="208.54" font-size="6.3" fill="#2e2e2e" text-anchor="end" stroke="#2e2e2e" stroke-width="0.08" >20</text>
<line x1="220.29999999999998" y1="186.61" x2="223.6" y2="186.61" stroke="#222222" stroke-width="1.2" />
<text x="217.6" y="188.81" font-size="6.3" fill="#2e2e2e" text-anchor="end" stroke="#2e2e2e" stroke-width="0.08" >30</text>
<line x1="223.6" y1="245.8" x2="223.6" y2="248.8" stroke="#222222" stroke-width="1.2" />
<text x="223.6" y="257.7" font-size="6.3" fill="#2e2e2e" text-anchor="middle" stroke="#2e2e2e" stroke-width="0.08" >0</text>
<line x1="247.54999999999998" y1="245.8" x2="247.54999999999998" y2="248.8" stroke="#222222" stroke-width="1.2" />
<text x="247.54999999999998" y="257.7" font-size="6.3" fill="#2e2e2e" text-anchor="middle" stroke="#2e2e2e" stroke-width="0.08" >5</text>
<line x1="271.5" y1="245.8" x2="271.5" y2="248.8" stroke="#222222" stroke-width="1.2" />
<text x="271.5" y="257.7" font-size="6.3" fill="#2e2e2e" text-anchor="middle" stroke="#2e2e2e" stroke-width="0.08" >10</text>
<line x1="295.45" y1="245.8" x2="295.45" y2="248.8" stroke="#222222" stroke-width="1.2" />
<text x="295.45" y="257.7" font-size="6.3" fill="#2e2e2e" text-anchor="middle" stroke="#2e2e2e" stroke-width="0.08" >15</text>
<line x1="319.4" y1="245.8" x2="319.4" y2="248.8" stroke="#222222" stroke-width="1.2" />
<text x="319.4" y="257.7" font-size="6.3" fill="#2e2e2e" text-anchor="middle" stroke="#2e2e2e" stroke-width="0.08" >20</text>
<text transform="translate(195.6,214.2) rotate(-90)" x="0" y="0" font-size="9" fill="#2e2e2e" text-anchor="middle" stroke="#2e2e2e" stroke-width="0.08" textLength="58" lengthAdjust="spacingAndGlyphs" >Cumulative days of</text>
<text transform="translate(205.6,214.2) rotate(-90)" x="0" y="0" font-size="9" fill="#2e2e2e" text-anchor="middle" stroke="#2e2e2e" stroke-width="0.08" textLength="67" lengthAdjust="spacingAndGlyphs" >neutropenia (D0-D30)</text>
<text x="273.2" y="270.4" font-size="9.3" fill="#2e2e2e" text-anchor="middle" stroke="#2e2e2e" stroke-width="0.08" textLength="73.6" lengthAdjust="spacingAndGlyphs" >Baseline ANC (×10³/μL)</text>
<text x="304.0" y="192.8" font-size="6.3" fill="#2e2e2e" text-anchor="start" stroke="#2e2e2e" stroke-width="0.08" textLength="26" lengthAdjust="spacingAndGlyphs" >r = −0.52</text>
<text x="304.0" y="200.7" font-size="6.3" fill="#2e2e2e" text-anchor="start" stroke="#2e2e2e" stroke-width="0.08" textLength="27" lengthAdjust="spacingAndGlyphs" ><tspan font-style="italic">P</tspan> &lt; .0001</text>
<text x="304.0" y="208.0" font-size="6.3" fill="#2e2e2e" text-anchor="start" stroke="#2e2e2e" stroke-width="0.08" textLength="23" lengthAdjust="spacingAndGlyphs" >n = 156</text>
<text x="350.90000000000003" y="163.8" font-size="11.2" fill="#111" text-anchor="start" stroke="#111" stroke-width="0.08" font-weight="bold" textLength="6.2" lengthAdjust="spacingAndGlyphs" >F</text>
<text x="445.5" y="166.8" font-size="8.2" fill="#2e2e2e" text-anchor="middle" stroke="#2e2e2e" stroke-width="0.12" textLength="98.4" lengthAdjust="spacing" >Baseline hemoglobin and</text>
<text x="445.5" y="178.0" font-size="8.2" fill="#2e2e2e" text-anchor="middle" stroke="#2e2e2e" stroke-width="0.12" textLength="77.2" lengthAdjust="spacing" >days of neutropenia</text>
<rect x="400.15" y="184.15" width="1.5" height="1.5" fill="#7a82a3"/>
<rect x="405.85" y="184.15" width="1.5" height="1.5" fill="#7a82a3"/>
<rect x="408.25" y="184.15" width="1.5" height="1.5" fill="#7a82a3"/>
<rect x="410.65" y="184.15" width="1.5" height="1.5" fill="#7a82a3"/>
<rect x="413.15" y="184.15" width="1.5" height="1.5" fill="#7a82a3"/>
<rect x="416.35" y="184.15" width="1.5" height="1.5" fill="#7a82a3"/>
<rect x="419.65" y="184.15" width="1.5" height="1.5" fill="#7a82a3"/>
<rect x="422.85" y="184.15" width="1.5" height="1.5" fill="#7a82a3"/>
<rect x="429.35" y="184.15" width="1.5" height="1.5" fill="#7a82a3"/>
<rect x="431.85" y="184.15" width="1.5" height="1.5" fill="#7a82a3"/>
<rect x="435.05" y="184.15" width="1.5" height="1.5" fill="#7a82a3"/>
<rect x="438.35" y="184.15" width="1.5" height="1.5" fill="#7a82a3"/>
<rect x="428.55" y="187.75" width="1.5" height="1.5" fill="#7a82a3"/>
<rect x="431.05" y="188.55" width="1.5" height="1.5" fill="#7a82a3"/>
<rect x="414.75" y="191.85" width="1.5" height="1.5" fill="#7a82a3"/>
<rect x="422.05" y="193.45" width="1.5" height="1.5" fill="#7a82a3"/>
<rect x="426.15" y="194.25" width="1.5" height="1.5" fill="#7a82a3"/>
<rect x="428.55" y="194.25" width="1.5" height="1.5" fill="#7a82a3"/>
<rect x="436.75" y="195.85" width="1.5" height="1.5" fill="#7a82a3"/>
<rect x="436.75" y="193.45" width="1.5" height="1.5" fill="#7a82a3"/>
<rect x="419.65" y="199.15" width="1.5" height="1.5" fill="#7a82a3"/>
<rect x="418.85" y="201.55" width="1.5" height="1.5" fill="#7a82a3"/>
<rect x="434.25" y="204.05" width="1.5" height="1.5" fill="#7a82a3"/>
<rect x="439.15" y="204.05" width="1.5" height="1.5" fill="#7a82a3"/>
<rect x="435.95" y="206.45" width="1.5" height="1.5" fill="#7a82a3"/>
<rect x="413.95" y="215.35" width="1.5" height="1.5" fill="#7a82a3"/>
<rect x="418.05" y="216.25" width="1.5" height="1.5" fill="#7a82a3"/>
<rect x="422.05" y="217.85" width="1.5" height="1.5" fill="#7a82a3"/>
<rect x="401.75" y="220.25" width="1.5" height="1.5" fill="#7a82a3"/>
<rect x="413.95" y="220.25" width="1.5" height="1.5" fill="#7a82a3"/>
<rect x="423.75" y="220.25" width="1.5" height="1.5" fill="#7a82a3"/>
<rect x="428.55" y="220.25" width="1.5" height="1.5" fill="#7a82a3"/>
<rect x="433.45" y="220.25" width="1.5" height="1.5" fill="#7a82a3"/>
<rect x="410.65" y="225.15" width="1.5" height="1.5" fill="#7a82a3"/>
<rect x="430.25" y="224.35" width="1.5" height="1.5" fill="#7a82a3"/>
<rect x="412.35" y="229.25" width="1.5" height="1.5" fill="#7a82a3"/>
<rect x="420.45" y="229.25" width="1.5" height="1.5" fill="#7a82a3"/>
<rect x="428.55" y="229.25" width="1.5" height="1.5" fill="#7a82a3"/>
<rect x="428.55" y="233.25" width="1.5" height="1.5" fill="#7a82a3"/>
<rect x="431.85" y="233.25" width="1.5" height="1.5" fill="#7a82a3"/>
<rect x="401.75" y="237.35" width="1.5" height="1.5" fill="#7a82a3"/>
<rect x="415.55" y="237.35" width="1.5" height="1.5" fill="#7a82a3"/>
<rect x="425.35" y="237.35" width="1.5" height="1.5" fill="#7a82a3"/>
<rect x="436.75" y="237.35" width="1.5" height="1.5" fill="#7a82a3"/>
<rect x="424.55" y="239.75" width="1.5" height="1.5" fill="#7a82a3"/>
<rect x="429.35" y="239.75" width="1.5" height="1.5" fill="#7a82a3"/>
<rect x="434.25" y="239.75" width="1.5" height="1.5" fill="#7a82a3"/>
<rect x="414.75" y="241.45" width="1.5" height="1.5" fill="#7a82a3"/>
<rect x="422.85" y="241.45" width="1.5" height="1.5" fill="#7a82a3"/>
<rect x="434.25" y="243.05" width="1.5" height="1.5" fill="#7a82a3"/>
<rect x="437.25" y="243.05" width="1.5" height="1.5" fill="#7a82a3"/>
<rect x="440.25" y="243.05" width="1.5" height="1.5" fill="#7a82a3"/>
<rect x="442.25" y="243.05" width="1.5" height="1.5" fill="#7a82a3"/>
<rect x="444.15" y="184.15" width="1.5" height="1.5" fill="#7a82a3"/>
<rect x="457.15" y="185.35" width="1.5" height="1.5" fill="#7a82a3"/>
<rect x="464.45" y="184.15" width="1.5" height="1.5" fill="#7a82a3"/>
<rect x="446.55" y="190.15" width="1.5" height="1.5" fill="#7a82a3"/>
<rect x="448.15" y="191.85" width="1.5" height="1.5" fill="#7a82a3"/>
<rect x="453.05" y="191.85" width="1.5" height="1.5" fill="#7a82a3"/>
<rect x="455.55" y="193.45" width="1.5" height="1.5" fill="#7a82a3"/>
<rect x="457.95" y="190.15" width="1.5" height="1.5" fill="#7a82a3"/>
<rect x="470.15" y="195.85" width="1.5" height="1.5" fill="#7a82a3"/>
<rect x="450.65" y="199.95" width="1.5" height="1.5" fill="#7a82a3"/>
<rect x="440.85" y="201.55" width="1.5" height="1.5" fill="#7a82a3"/>
<rect x="443.35" y="201.55" width="1.5" height="1.5" fill="#7a82a3"/>
<rect x="445.75" y="205.65" width="1.5" height="1.5" fill="#7a82a3"/>
<rect x="479.95" y="209.75" width="1.5" height="1.5" fill="#7a82a3"/>
<rect x="477.45" y="215.35" width="1.5" height="1.5" fill="#7a82a3"/>
<rect x="488.05" y="221.05" width="1.5" height="1.5" fill="#7a82a3"/>
<rect x="467.75" y="219.45" width="1.5" height="1.5" fill="#7a82a3"/>
<rect x="453.85" y="217.05" width="1.5" height="1.5" fill="#7a82a3"/>
<rect x="446.55" y="225.15" width="1.5" height="1.5" fill="#7a82a3"/>
<rect x="454.65" y="228.45" width="1.5" height="1.5" fill="#7a82a3"/>
<rect x="441.65" y="230.85" width="1.5" height="1.5" fill="#7a82a3"/>
<rect x="453.85" y="233.25" width="1.5" height="1.5" fill="#7a82a3"/>
<rect x="455.55" y="234.95" width="1.5" height="1.5" fill="#7a82a3"/>
<rect x="457.15" y="237.35" width="1.5" height="1.5" fill="#7a82a3"/>
<rect x="469.35" y="238.95" width="1.5" height="1.5" fill="#7a82a3"/>
<rect x="443.35" y="238.95" width="1.5" height="1.5" fill="#7a82a3"/>
<rect x="454.65" y="241.45" width="1.5" height="1.5" fill="#7a82a3"/>
<rect x="457.15" y="242.25" width="1.5" height="1.5" fill="#7a82a3"/>
<clipPath id="clipF"><rect x="396.6" y="183.0" width="94.39999999999998" height="62.80000000000001"/></clipPath>
<g clip-path="url(#clipF)">
<polygon fill="#b6bcdc" points="400.10,192.31 402.32,193.63 404.54,194.94 406.75,196.25 408.97,197.56 411.19,198.87 413.41,200.17 415.62,201.47 417.84,202.77 420.06,204.06 422.28,205.35 424.49,206.63 426.71,207.90 428.93,209.16 431.15,210.41 433.36,211.64 435.58,212.85 437.80,214.04 440.02,215.21 442.23,216.33 444.45,217.42 446.67,218.46 448.88,219.45 451.10,220.39 453.32,221.29 455.54,222.16 457.75,222.98 459.97,223.78 462.19,224.56 464.41,225.32 466.62,226.06 468.84,226.79 471.06,227.52 473.28,228.23 475.50,228.94 477.71,229.64 479.93,230.34 482.15,231.04 484.37,231.73 486.58,232.42 488.80,233.10 488.80,246.35 486.58,245.04 484.37,243.73 482.15,242.42 479.93,241.12 477.71,239.83 475.50,238.53 473.28,237.24 471.06,235.96 468.84,234.69 466.62,233.43 464.41,232.17 462.19,230.94 459.97,229.72 457.75,228.52 455.54,227.35 453.32,226.22 451.10,225.12 448.88,224.07 446.67,223.06 444.45,222.11 442.23,221.20 440.02,220.33 437.80,219.49 435.58,218.69 433.36,217.90 431.15,217.14 428.93,216.39 426.71,215.66 424.49,214.93 422.28,214.22 420.06,213.51 417.84,212.80 415.62,212.10 413.41,211.41 411.19,210.71 408.97,210.02 406.75,209.34 404.54,208.65 402.32,207.97 400.10,207.29"/>
<polyline fill="none" stroke="#56679f" stroke-width="0.7" stroke-dasharray="1.2,0.8" points="400.10,192.31 402.32,193.63 404.54,194.94 406.75,196.25 408.97,197.56 411.19,198.87 413.41,200.17 415.62,201.47 417.84,202.77 420.06,204.06 422.28,205.35 424.49,206.63 426.71,207.90 428.93,209.16 431.15,210.41 433.36,211.64 435.58,212.85 437.80,214.04 440.02,215.21 442.23,216.33 444.45,217.42 446.67,218.46 448.88,219.45 451.10,220.39 453.32,221.29 455.54,222.16 457.75,222.98 459.97,223.78 462.19,224.56 464.41,225.32 466.62,226.06 468.84,226.79 471.06,227.52 473.28,228.23 475.50,228.94 477.71,229.64 479.93,230.34 482.15,231.04 484.37,231.73 486.58,232.42 488.80,233.10"/>
<polyline fill="none" stroke="#56679f" stroke-width="0.7" stroke-dasharray="1.2,0.8" points="400.10,207.29 402.32,207.97 404.54,208.65 406.75,209.34 408.97,210.02 411.19,210.71 413.41,211.41 415.62,212.10 417.84,212.80 420.06,213.51 422.28,214.22 424.49,214.93 426.71,215.66 428.93,216.39 431.15,217.14 433.36,217.90 435.58,218.69 437.80,219.49 440.02,220.33 442.23,221.20 444.45,222.11 446.67,223.06 448.88,224.07 451.10,225.12 453.32,226.22 455.54,227.35 457.75,228.52 459.97,229.72 462.19,230.94 464.41,232.17 466.62,233.43 468.84,234.69 471.06,235.96 473.28,237.24 475.50,238.53 477.71,239.83 479.93,241.12 482.15,242.42 484.37,243.73 486.58,245.04 488.80,246.35"/>
<line x1="400.1" y1="199.8" x2="488.8" y2="239.7250566893424" stroke="#2a3d6a" stroke-width="1.25" />
</g>
<line x1="396.6" y1="182.3" x2="396.6" y2="246.5" stroke="#222222" stroke-width="1.4" />
<line x1="395.90000000000003" y1="245.8" x2="491.0" y2="245.8" stroke="#222222" stroke-width="1.4" />
<line x1="393.3" y1="245.8" x2="396.6" y2="245.8" stroke="#222222" stroke-width="1.2" />
<text x="390.6" y="248.0" font-size="6.3" fill="#2e2e2e" text-anchor="end" stroke="#2e2e2e" stroke-width="0.08" >0</text>
<line x1="393.3" y1="226.07000000000002" x2="396.6" y2="226.07000000000002" stroke="#222222" stroke-width="1.2" />
<text x="390.6" y="228.27" font-size="6.3" fill="#2e2e2e" text-anchor="end" stroke="#2e2e2e" stroke-width="0.08" >10</text>
<line x1="393.3" y1="206.34" x2="396.6" y2="206.34" stroke="#222222" stroke-width="1.2" />
<text x="390.6" y="208.54" font-size="6.3" fill="#2e2e2e" text-anchor="end" stroke="#2e2e2e" stroke-width="0.08" >20</text>
<line x1="393.3" y1="186.61" x2="396.6" y2="186.61" stroke="#222222" stroke-width="1.2" />
<text x="390.6" y="188.81" font-size="6.3" fill="#2e2e2e" text-anchor="end" stroke="#2e2e2e" stroke-width="0.08" >30</text>
<line x1="408.6" y1="245.8" x2="408.6" y2="248.8" stroke="#222222" stroke-width="1.2" />
<text x="408.6" y="257.7" font-size="6.3" fill="#2e2e2e" text-anchor="middle" stroke="#2e2e2e" stroke-width="0.08" >8</text>
<line x1="432.46000000000004" y1="245.8" x2="432.46000000000004" y2="248.8" stroke="#222222" stroke-width="1.2" />
<text x="432.46000000000004" y="257.7" font-size="6.3" fill="#2e2e2e" text-anchor="middle" stroke="#2e2e2e" stroke-width="0.08" >10</text>
<line x1="456.32000000000005" y1="245.8" x2="456.32000000000005" y2="248.8" stroke="#222222" stroke-width="1.2" />
<text x="456.32000000000005" y="257.7" font-size="6.3" fill="#2e2e2e" text-anchor="middle" stroke="#2e2e2e" stroke-width="0.08" >12</text>
<line x1="480.18" y1="245.8" x2="480.18" y2="248.8" stroke="#222222" stroke-width="1.2" />
<text x="480.18" y="257.7" font-size="6.3" fill="#2e2e2e" text-anchor="middle" stroke="#2e2e2e" stroke-width="0.08" >14</text>
<text transform="translate(368.6,214.2) rotate(-90)" x="0" y="0" font-size="9" fill="#2e2e2e" text-anchor="middle" stroke="#2e2e2e" stroke-width="0.08" textLength="58" lengthAdjust="spacingAndGlyphs" >Cumulative days of</text>
<text transform="translate(378.6,214.2) rotate(-90)" x="0" y="0" font-size="9" fill="#2e2e2e" text-anchor="middle" stroke="#2e2e2e" stroke-width="0.08" textLength="67" lengthAdjust="spacingAndGlyphs" >neutropenia (D0-D30)</text>
<text x="444.1" y="270.4" font-size="9.3" fill="#2e2e2e" text-anchor="middle" stroke="#2e2e2e" stroke-width="0.08" textLength="84.2" lengthAdjust="spacingAndGlyphs" >Baseline hemoglobin (g/dL)</text>
<text x="485.8" y="190.6" font-size="6.3" fill="#2e2e2e" text-anchor="start" stroke="#2e2e2e" stroke-width="0.08" textLength="26" lengthAdjust="spacingAndGlyphs" >r = −0.43</text>
<text x="485.8" y="198.3" font-size="6.3" fill="#2e2e2e" text-anchor="start" stroke="#2e2e2e" stroke-width="0.08" textLength="26.4" lengthAdjust="spacingAndGlyphs" ><tspan font-style="italic">P</tspan> &lt; .0001</text>
<text x="485.8" y="206.0" font-size="6.3" fill="#2e2e2e" text-anchor="start" stroke="#2e2e2e" stroke-width="0.08" textLength="22.5" lengthAdjust="spacingAndGlyphs" >n = 156</text>
<text x="6.8" y="291.8" font-size="11.2" fill="#111" text-anchor="start" stroke="#111" stroke-width="0.08" font-weight="bold" textLength="8.8" lengthAdjust="spacingAndGlyphs" >G</text>
<text x="98.2" y="294.2" font-size="8.2" fill="#2e2e2e" text-anchor="middle" stroke="#2e2e2e" stroke-width="0.12" textLength="67.7" lengthAdjust="spacing" >Baseline CRP and</text>
<text x="98.2" y="304.4" font-size="8.2" fill="#2e2e2e" text-anchor="middle" stroke="#2e2e2e" stroke-width="0.12" textLength="76.9" lengthAdjust="spacing" >days of neutropenia</text>
<rect x="50.3" y="313" width="2.3" height="59.5" fill="#b4bcdc"/>
<rect x="51.95" y="310.65" width="1.5" height="1.5" fill="#7a82a3"/>
<rect x="54.45" y="310.65" width="1.5" height="1.5" fill="#7a82a3"/>
<rect x="59.45" y="310.65" width="1.5" height="1.5" fill="#7a82a3"/>
<rect x="61.15" y="310.65" width="1.5" height="1.5" fill="#7a82a3"/>
<rect x="67.05" y="310.65" width="1.5" height="1.5" fill="#7a82a3"/>
<rect x="71.25" y="310.65" width="1.5" height="1.5" fill="#7a82a3"/>
<rect x="76.25" y="310.65" width="1.5" height="1.5" fill="#7a82a3"/>
<rect x="80.45" y="310.65" width="1.5" height="1.5" fill="#7a82a3"/>
<rect x="84.65" y="310.65" width="1.5" height="1.5" fill="#7a82a3"/>
<rect x="87.95" y="310.65" width="1.5" height="1.5" fill="#7a82a3"/>
<rect x="92.15" y="310.65" width="1.5" height="1.5" fill="#7a82a3"/>
<rect x="49.45" y="313.15" width="1.5" height="1.5" fill="#7a82a3"/>
<rect x="52.75" y="313.15" width="1.5" height="1.5" fill="#7a82a3"/>
<rect x="51.15" y="318.95" width="1.5" height="1.5" fill="#7a82a3"/>
<rect x="52.75" y="318.95" width="1.5" height="1.5" fill="#7a82a3"/>
<rect x="54.45" y="318.95" width="1.5" height="1.5" fill="#7a82a3"/>
<rect x="59.45" y="323.15" width="1.5" height="1.5" fill="#7a82a3"/>
<rect x="67.05" y="321.45" width="1.5" height="1.5" fill="#7a82a3"/>
<rect x="74.55" y="323.15" width="1.5" height="1.5" fill="#7a82a3"/>
<rect x="67.05" y="326.55" width="1.5" height="1.5" fill="#7a82a3"/>
<rect x="50.25" y="328.15" width="1.5" height="1.5" fill="#7a82a3"/>
<rect x="51.95" y="329.05" width="1.5" height="1.5" fill="#7a82a3"/>
<rect x="56.15" y="330.75" width="1.5" height="1.5" fill="#7a82a3"/>
<rect x="49.45" y="332.35" width="1.5" height="1.5" fill="#7a82a3"/>
<rect x="50.25" y="334.05" width="1.5" height="1.5" fill="#7a82a3"/>
<rect x="49.45" y="340.75" width="1.5" height="1.5" fill="#7a82a3"/>
<rect x="62.05" y="348.25" width="1.5" height="1.5" fill="#7a82a3"/>
<rect x="61.15" y="350.45" width="1.5" height="1.5" fill="#7a82a3"/>
<rect x="68.75" y="352.15" width="1.5" height="1.5" fill="#7a82a3"/>
<rect x="50.25" y="352.45" width="1.5" height="1.5" fill="#7a82a3"/>
<rect x="53.65" y="352.45" width="1.5" height="1.5" fill="#7a82a3"/>
<rect x="59.45" y="354.15" width="1.5" height="1.5" fill="#7a82a3"/>
<rect x="49.45" y="355.85" width="1.5" height="1.5" fill="#7a82a3"/>
<rect x="51.15" y="356.15" width="1.5" height="1.5" fill="#7a82a3"/>
<rect x="54.45" y="356.15" width="1.5" height="1.5" fill="#7a82a3"/>
<rect x="56.95" y="355.85" width="1.5" height="1.5" fill="#7a82a3"/>
<rect x="50.25" y="360.85" width="1.5" height="1.5" fill="#7a82a3"/>
<rect x="66.15" y="364.25" width="1.5" height="1.5" fill="#7a82a3"/>
<rect x="50.25" y="364.25" width="1.5" height="1.5" fill="#7a82a3"/>
<rect x="49.45" y="367.55" width="1.5" height="1.5" fill="#7a82a3"/>
<rect x="60.35" y="370.05" width="1.5" height="1.5" fill="#7a82a3"/>
<rect x="67.05" y="370.05" width="1.5" height="1.5" fill="#7a82a3"/>
<rect x="114.95" y="314.35" width="1.5" height="1.5" fill="#7a82a3"/>
<rect x="120.95" y="310.25" width="1.5" height="1.5" fill="#7a82a3"/>
<rect x="139.15" y="341.65" width="1.5" height="1.5" fill="#7a82a3"/>
<rect x="68.45" y="352.75" width="1.5" height="1.5" fill="#7a82a3"/>
<rect x="66.45" y="363.85" width="1.5" height="1.5" fill="#7a82a3"/>
<rect x="49.75" y="315.25" width="1.5" height="1.5" fill="#7a82a3"/>
<rect x="49.75" y="321.25" width="1.5" height="1.5" fill="#7a82a3"/>
<rect x="49.75" y="325.25" width="1.5" height="1.5" fill="#7a82a3"/>
<rect x="49.75" y="337.25" width="1.5" height="1.5" fill="#7a82a3"/>
<rect x="49.75" y="344.25" width="1.5" height="1.5" fill="#7a82a3"/>
<rect x="49.75" y="348.25" width="1.5" height="1.5" fill="#7a82a3"/>
<rect x="49.75" y="358.25" width="1.5" height="1.5" fill="#7a82a3"/>
<rect x="49.75" y="370.25" width="1.5" height="1.5" fill="#7a82a3"/>
<clipPath id="clipG"><rect x="49.5" y="310.0" width="94.5" height="62.89999999999998"/></clipPath>
<g clip-path="url(#clipG)">
<polygon fill="#b6bcdc" points="49.50,340.61 51.79,340.24 54.08,339.83 56.36,339.37 58.65,338.86 60.94,338.26 63.23,337.57 65.51,336.77 67.80,335.85 70.09,334.84 72.38,333.73 74.66,332.55 76.95,331.32 79.24,330.05 81.53,328.75 83.81,327.42 86.10,326.08 88.39,324.73 90.67,323.37 92.96,322.00 95.25,320.62 97.54,319.24 99.83,317.85 102.11,316.46 104.40,315.06 106.69,313.67 108.97,312.27 111.26,310.86 113.55,309.46 115.84,308.06 118.12,306.65 120.41,305.24 122.70,303.84 124.99,302.43 127.28,301.02 129.56,299.61 131.85,298.20 134.14,296.78 136.43,295.37 138.71,293.96 141.00,292.55 141.00,332.05 138.71,332.31 136.43,332.56 134.14,332.81 131.85,333.06 129.56,333.32 127.28,333.57 124.99,333.83 122.70,334.08 120.41,334.34 118.12,334.60 115.84,334.86 113.55,335.12 111.26,335.38 108.97,335.64 106.69,335.91 104.40,336.18 102.11,336.45 99.83,336.72 97.54,337.00 95.25,337.28 92.96,337.57 90.67,337.86 88.39,338.16 86.10,338.48 83.81,338.80 81.53,339.14 79.24,339.51 76.95,339.90 74.66,340.34 72.38,340.82 70.09,341.38 67.80,342.03 65.51,342.78 63.23,343.64 60.94,344.61 58.65,345.68 56.36,346.83 54.08,348.04 51.79,349.30 49.50,350.59"/>
<polyline fill="none" stroke="#56679f" stroke-width="0.7" stroke-dasharray="1.2,0.8" points="49.50,340.61 51.79,340.24 54.08,339.83 56.36,339.37 58.65,338.86 60.94,338.26 63.23,337.57 65.51,336.77 67.80,335.85 70.09,334.84 72.38,333.73 74.66,332.55 76.95,331.32 79.24,330.05 81.53,328.75 83.81,327.42 86.10,326.08 88.39,324.73 90.67,323.37 92.96,322.00 95.25,320.62 97.54,319.24 99.83,317.85 102.11,316.46 104.40,315.06 106.69,313.67 108.97,312.27 111.26,310.86 113.55,309.46 115.84,308.06 118.12,306.65 120.41,305.24 122.70,303.84 124.99,302.43 127.28,301.02 129.56,299.61 131.85,298.20 134.14,296.78 136.43,295.37 138.71,293.96 141.00,292.55"/>
<polyline fill="none" stroke="#56679f" stroke-width="0.7" stroke-dasharray="1.2,0.8" points="49.50,350.59 51.79,349.30 54.08,348.04 56.36,346.83 58.65,345.68 60.94,344.61 63.23,343.64 65.51,342.78 67.80,342.03 70.09,341.38 72.38,340.82 74.66,340.34 76.95,339.90 79.24,339.51 81.53,339.14 83.81,338.80 86.10,338.48 88.39,338.16 90.67,337.86 92.96,337.57 95.25,337.28 97.54,337.00 99.83,336.72 102.11,336.45 104.40,336.18 106.69,335.91 108.97,335.64 111.26,335.38 113.55,335.12 115.84,334.86 118.12,334.60 120.41,334.34 122.70,334.08 124.99,333.83 127.28,333.57 129.56,333.32 131.85,333.06 134.14,332.81 136.43,332.56 138.71,332.31 141.00,332.05"/>
<line x1="49.5" y1="345.6" x2="141.0" y2="312.3" stroke="#2a3d6a" stroke-width="1.25" />
</g>
<line x1="49.5" y1="310.0" x2="49.5" y2="373.59999999999997" stroke="#222222" stroke-width="1.4" />
<line x1="48.8" y1="372.9" x2="144.0" y2="372.9" stroke="#222222" stroke-width="1.4" />
<line x1="46.2" y1="372.9" x2="49.5" y2="372.9" stroke="#222222" stroke-width="1.2" />
<text x="43.5" y="375.09999999999997" font-size="6.3" fill="#2e2e2e" text-anchor="end" stroke="#2e2e2e" stroke-width="0.08" >0</text>
<line x1="46.2" y1="353.09999999999997" x2="49.5" y2="353.09999999999997" stroke="#222222" stroke-width="1.2" />
<text x="43.5" y="355.29999999999995" font-size="6.3" fill="#2e2e2e" text-anchor="end" stroke="#2e2e2e" stroke-width="0.08" >10</text>
<line x1="46.2" y1="333.29999999999995" x2="49.5" y2="333.29999999999995" stroke="#222222" stroke-width="1.2" />
<text x="43.5" y="335.49999999999994" font-size="6.3" fill="#2e2e2e" text-anchor="end" stroke="#2e2e2e" stroke-width="0.08" >20</text>
<line x1="46.2" y1="313.5" x2="49.5" y2="313.5" stroke="#222222" stroke-width="1.2" />
<text x="43.5" y="315.7" font-size="6.3" fill="#2e2e2e" text-anchor="end" stroke="#2e2e2e" stroke-width="0.08" >30</text>
<line x1="49.5" y1="372.9" x2="49.5" y2="375.9" stroke="#222222" stroke-width="1.2" />
<text x="49.5" y="385.0" font-size="6.3" fill="#2e2e2e" text-anchor="middle" stroke="#2e2e2e" stroke-width="0.08" >0</text>
<line x1="64.9" y1="372.9" x2="64.9" y2="375.9" stroke="#222222" stroke-width="1.2" />
<text x="64.9" y="385.0" font-size="6.3" fill="#2e2e2e" text-anchor="middle" stroke="#2e2e2e" stroke-width="0.08" >5</text>
<line x1="80.3" y1="372.9" x2="80.3" y2="375.9" stroke="#222222" stroke-width="1.2" />
<text x="80.3" y="385.0" font-size="6.3" fill="#2e2e2e" text-anchor="middle" stroke="#2e2e2e" stroke-width="0.08" >10</text>
<line x1="95.7" y1="372.9" x2="95.7" y2="375.9" stroke="#222222" stroke-width="1.2" />
<text x="95.7" y="385.0" font-size="6.3" fill="#2e2e2e" text-anchor="middle" stroke="#2e2e2e" stroke-width="0.08" >15</text>
<line x1="111.1" y1="372.9" x2="111.1" y2="375.9" stroke="#222222" stroke-width="1.2" />
<text x="111.1" y="385.0" font-size="6.3" fill="#2e2e2e" text-anchor="middle" stroke="#2e2e2e" stroke-width="0.08" >20</text>
<line x1="126.5" y1="372.9" x2="126.5" y2="375.9" stroke="#222222" stroke-width="1.2" />
<text x="126.5" y="385.0" font-size="6.3" fill="#2e2e2e" text-anchor="middle" stroke="#2e2e2e" stroke-width="0.08" >25</text>
<line x1="141.9" y1="372.9" x2="141.9" y2="375.9" stroke="#222222" stroke-width="1.2" />
<text x="141.9" y="385.0" font-size="6.3" fill="#2e2e2e" text-anchor="middle" stroke="#2e2e2e" stroke-width="0.08" >30</text>
<text transform="translate(21.5,341.0) rotate(-90)" x="0" y="0" font-size="9" fill="#2e2e2e" text-anchor="middle" stroke="#2e2e2e" stroke-width="0.08" textLength="58" lengthAdjust="spacingAndGlyphs" >Cumulative days of</text>
<text transform="translate(31.5,341.0) rotate(-90)" x="0" y="0" font-size="9" fill="#2e2e2e" text-anchor="middle" stroke="#2e2e2e" stroke-width="0.08" textLength="67" lengthAdjust="spacingAndGlyphs" >neutropenia (D0-D30)</text>
<text x="98.8" y="396.9" font-size="9.3" fill="#2e2e2e" text-anchor="middle" stroke="#2e2e2e" stroke-width="0.08" textLength="66.1" lengthAdjust="spacingAndGlyphs" >Baseline CRP (mg/dL)</text>
<text x="132.8" y="351.2" font-size="6.3" fill="#2e2e2e" text-anchor="start" stroke="#2e2e2e" stroke-width="0.08" textLength="22.5" lengthAdjust="spacingAndGlyphs" >r = 0.34</text>
<text x="132.8" y="358.6" font-size="6.3" fill="#2e2e2e" text-anchor="start" stroke="#2e2e2e" stroke-width="0.08" textLength="26.4" lengthAdjust="spacingAndGlyphs" ><tspan font-style="italic">P</tspan> &lt; .0001</text>
<text x="132.8" y="366.4" font-size="6.3" fill="#2e2e2e" text-anchor="start" stroke="#2e2e2e" stroke-width="0.08" textLength="22" lengthAdjust="spacingAndGlyphs" >n = 142</text>
<text x="179.4" y="291.8" font-size="11.2" fill="#111" text-anchor="start" stroke="#111" stroke-width="0.08" font-weight="bold" textLength="8.0" lengthAdjust="spacingAndGlyphs" >H</text>
<text x="272.2" y="294.2" font-size="8.2" fill="#2e2e2e" text-anchor="middle" stroke="#2e2e2e" stroke-width="0.12" textLength="77" lengthAdjust="spacing" >Baseline ferritin and</text>
<text x="272.2" y="304.09999999999997" font-size="8.2" fill="#2e2e2e" text-anchor="middle" stroke="#2e2e2e" stroke-width="0.12" textLength="77" lengthAdjust="spacing" >days of neutropenia</text>
<rect x="227.75" y="310.95" width="1.5" height="1.5" fill="#7a82a3"/>
<rect x="229.45" y="310.95" width="1.5" height="1.5" fill="#7a82a3"/>
<rect x="232.85" y="310.95" width="1.5" height="1.5" fill="#7a82a3"/>
<rect x="236.15" y="310.95" width="1.5" height="1.5" fill="#7a82a3"/>
<rect x="245.35" y="310.95" width="1.5" height="1.5" fill="#7a82a3"/>
<rect x="250.45" y="310.95" width="1.5" height="1.5" fill="#7a82a3"/>
<rect x="234.45" y="316.45" width="1.5" height="1.5" fill="#7a82a3"/>
<rect x="245.35" y="313.95" width="1.5" height="1.5" fill="#7a82a3"/>
<rect x="250.45" y="318.95" width="1.5" height="1.5" fill="#7a82a3"/>
<rect x="226.95" y="320.65" width="1.5" height="1.5" fill="#7a82a3"/>
<rect x="228.65" y="320.65" width="1.5" height="1.5" fill="#7a82a3"/>
<rect x="243.75" y="321.45" width="1.5" height="1.5" fill="#7a82a3"/>
<rect x="225.25" y="323.15" width="1.5" height="1.5" fill="#7a82a3"/>
<rect x="247.05" y="324.85" width="1.5" height="1.5" fill="#7a82a3"/>
<rect x="224.45" y="325.65" width="1.5" height="1.5" fill="#7a82a3"/>
<rect x="234.45" y="326.55" width="1.5" height="1.5" fill="#7a82a3"/>
<rect x="231.95" y="328.65" width="1.5" height="1.5" fill="#7a82a3"/>
<rect x="242.05" y="328.65" width="1.5" height="1.5" fill="#7a82a3"/>
<rect x="238.65" y="331.05" width="1.5" height="1.5" fill="#7a82a3"/>
<rect x="225.25" y="334.05" width="1.5" height="1.5" fill="#7a82a3"/>
<rect x="226.95" y="334.85" width="1.5" height="1.5" fill="#7a82a3"/>
<rect x="230.25" y="337.05" width="1.5" height="1.5" fill="#7a82a3"/>
<rect x="232.85" y="337.05" width="1.5" height="1.5" fill="#7a82a3"/>
<rect x="225.25" y="341.55" width="1.5" height="1.5" fill="#7a82a3"/>
<rect x="227.75" y="342.45" width="1.5" height="1.5" fill="#7a82a3"/>
<rect x="230.25" y="342.45" width="1.5" height="1.5" fill="#7a82a3"/>
<rect x="255.45" y="344.95" width="1.5" height="1.5" fill="#7a82a3"/>
<rect x="255.45" y="348.25" width="1.5" height="1.5" fill="#7a82a3"/>
<rect x="225.25" y="352.45" width="1.5" height="1.5" fill="#7a82a3"/>
<rect x="226.15" y="356.15" width="1.5" height="1.5" fill="#7a82a3"/>
<rect x="230.25" y="356.15" width="1.5" height="1.5" fill="#7a82a3"/>
<rect x="231.95" y="356.15" width="1.5" height="1.5" fill="#7a82a3"/>
<rect x="241.15" y="356.15" width="1.5" height="1.5" fill="#7a82a3"/>
<rect x="249.55" y="356.15" width="1.5" height="1.5" fill="#7a82a3"/>
<rect x="225.25" y="366.75" width="1.5" height="1.5" fill="#7a82a3"/>
<rect x="243.75" y="365.85" width="1.5" height="1.5" fill="#7a82a3"/>
<rect x="233.65" y="369.55" width="1.5" height="1.5" fill="#7a82a3"/>
<rect x="244.55" y="369.55" width="1.5" height="1.5" fill="#7a82a3"/>
<rect x="224.25" y="362.25" width="1.5" height="1.5" fill="#7a82a3"/>
<rect x="225.25" y="364.25" width="1.5" height="1.5" fill="#7a82a3"/>
<rect x="224.75" y="368.25" width="1.5" height="1.5" fill="#7a82a3"/>
<rect x="226.25" y="370.25" width="1.5" height="1.5" fill="#7a82a3"/>
<rect x="244.05" y="320.15" width="1.5" height="1.5" fill="#7a82a3"/>
<rect x="248.55" y="356.25" width="1.5" height="1.5" fill="#7a82a3"/>
<clipPath id="clipH"><rect x="223.7" y="310.0" width="94.30000000000001" height="62.89999999999998"/></clipPath>
<g clip-path="url(#clipH)">
<polygon fill="#b6bcdc" points="224.30,343.02 226.56,342.40 228.81,341.68 231.07,340.84 233.33,339.88 235.59,338.80 237.85,337.60 240.10,336.31 242.36,334.92 244.62,333.47 246.88,331.96 249.13,330.41 251.39,328.81 253.65,327.19 255.91,325.54 258.16,323.87 260.42,322.19 262.68,320.49 264.94,318.78 267.19,317.06 269.45,315.33 271.71,313.60 273.97,311.86 276.22,310.12 278.48,308.37 280.74,306.61 283.00,304.86 285.25,303.10 287.51,301.34 289.77,299.57 292.03,297.80 294.28,296.04 296.54,294.26 298.80,292.49 301.06,290.72 303.31,288.94 305.57,287.17 307.83,285.39 310.09,283.61 312.34,281.83 314.60,280.05 314.60,342.95 312.34,343.07 310.09,343.19 307.83,343.31 305.57,343.43 303.31,343.56 301.06,343.68 298.80,343.81 296.54,343.94 294.28,344.06 292.03,344.20 289.77,344.33 287.51,344.46 285.25,344.60 283.00,344.74 280.74,344.89 278.48,345.03 276.22,345.18 273.97,345.34 271.71,345.50 269.45,345.67 267.19,345.84 264.94,346.02 262.68,346.21 260.42,346.41 258.16,346.63 255.91,346.86 253.65,347.11 251.39,347.39 249.13,347.69 246.88,348.04 244.62,348.43 242.36,348.88 240.10,349.39 237.85,350.00 235.59,350.70 233.33,351.52 231.07,352.46 228.81,353.52 226.56,354.70 224.30,355.98"/>
<polyline fill="none" stroke="#56679f" stroke-width="0.7" stroke-dasharray="1.2,0.8" points="224.30,343.02 226.56,342.40 228.81,341.68 231.07,340.84 233.33,339.88 235.59,338.80 237.85,337.60 240.10,336.31 242.36,334.92 244.62,333.47 246.88,331.96 249.13,330.41 251.39,328.81 253.65,327.19 255.91,325.54 258.16,323.87 260.42,322.19 262.68,320.49 264.94,318.78 267.19,317.06 269.45,315.33 271.71,313.60 273.97,311.86 276.22,310.12 278.48,308.37 280.74,306.61 283.00,304.86 285.25,303.10 287.51,301.34 289.77,299.57 292.03,297.80 294.28,296.04 296.54,294.26 298.80,292.49 301.06,290.72 303.31,288.94 305.57,287.17 307.83,285.39 310.09,283.61 312.34,281.83 314.60,280.05"/>
<polyline fill="none" stroke="#56679f" stroke-width="0.7" stroke-dasharray="1.2,0.8" points="224.30,355.98 226.56,354.70 228.81,353.52 231.07,352.46 233.33,351.52 235.59,350.70 237.85,350.00 240.10,349.39 242.36,348.88 244.62,348.43 246.88,348.04 249.13,347.69 251.39,347.39 253.65,347.11 255.91,346.86 258.16,346.63 260.42,346.41 262.68,346.21 264.94,346.02 267.19,345.84 269.45,345.67 271.71,345.50 273.97,345.34 276.22,345.18 278.48,345.03 280.74,344.89 283.00,344.74 285.25,344.60 287.51,344.46 289.77,344.33 292.03,344.20 294.28,344.06 296.54,343.94 298.80,343.81 301.06,343.68 303.31,343.56 305.57,343.43 307.83,343.31 310.09,343.19 312.34,343.07 314.60,342.95"/>
<line x1="224.3" y1="349.5" x2="314.6" y2="311.5" stroke="#2a3d6a" stroke-width="1.25" />
</g>
<line x1="223.7" y1="310.0" x2="223.7" y2="373.59999999999997" stroke="#222222" stroke-width="1.4" />
<line x1="223.0" y1="372.9" x2="318.0" y2="372.9" stroke="#222222" stroke-width="1.4" />
<line x1="220.39999999999998" y1="372.9" x2="223.7" y2="372.9" stroke="#222222" stroke-width="1.2" />
<text x="217.7" y="375.09999999999997" font-size="6.3" fill="#2e2e2e" text-anchor="end" stroke="#2e2e2e" stroke-width="0.08" >0</text>
<line x1="220.39999999999998" y1="353.09999999999997" x2="223.7" y2="353.09999999999997" stroke="#222222" stroke-width="1.2" />
<text x="217.7" y="355.29999999999995" font-size="6.3" fill="#2e2e2e" text-anchor="end" stroke="#2e2e2e" stroke-width="0.08" >10</text>
<line x1="220.39999999999998" y1="333.29999999999995" x2="223.7" y2="333.29999999999995" stroke="#222222" stroke-width="1.2" />
<text x="217.7" y="335.49999999999994" font-size="6.3" fill="#2e2e2e" text-anchor="end" stroke="#2e2e2e" stroke-width="0.08" >20</text>
<line x1="220.39999999999998" y1="313.5" x2="223.7" y2="313.5" stroke="#222222" stroke-width="1.2" />
<text x="217.7" y="315.7" font-size="6.3" fill="#2e2e2e" text-anchor="end" stroke="#2e2e2e" stroke-width="0.08" >30</text>
<line x1="223.7" y1="372.9" x2="223.7" y2="375.9" stroke="#222222" stroke-width="1.2" />
<text x="223.7" y="385.0" font-size="6.3" fill="#2e2e2e" text-anchor="middle" stroke="#2e2e2e" stroke-width="0.08" >0</text>
<line x1="250.1" y1="372.9" x2="250.1" y2="375.9" stroke="#222222" stroke-width="1.2" />
<text x="250.1" y="385.0" font-size="6.3" fill="#2e2e2e" text-anchor="middle" stroke="#2e2e2e" stroke-width="0.08" >5000</text>
<line x1="276.5" y1="372.9" x2="276.5" y2="375.9" stroke="#222222" stroke-width="1.2" />
<text x="276.5" y="385.0" font-size="6.3" fill="#2e2e2e" text-anchor="middle" stroke="#2e2e2e" stroke-width="0.08" >10000</text>
<line x1="302.9" y1="372.9" x2="302.9" y2="375.9" stroke="#222222" stroke-width="1.2" />
<text x="302.9" y="385.0" font-size="6.3" fill="#2e2e2e" text-anchor="middle" stroke="#2e2e2e" stroke-width="0.08" >15000</text>
<text transform="translate(195.7,341.0) rotate(-90)" x="0" y="0" font-size="9" fill="#2e2e2e" text-anchor="middle" stroke="#2e2e2e" stroke-width="0.08" textLength="58" lengthAdjust="spacingAndGlyphs" >Cumulative days of</text>
<text transform="translate(205.7,341.0) rotate(-90)" x="0" y="0" font-size="9" fill="#2e2e2e" text-anchor="middle" stroke="#2e2e2e" stroke-width="0.08" textLength="67" lengthAdjust="spacingAndGlyphs" >neutropenia (D0-D30)</text>
<text x="272.5" y="397.09999999999997" font-size="9.3" fill="#2e2e2e" text-anchor="middle" stroke="#2e2e2e" stroke-width="0.08" textLength="68.5" lengthAdjust="spacingAndGlyphs" >Baseline ferritin (μg/L)</text>
<text x="309.1" y="353.4" font-size="6.3" fill="#2e2e2e" text-anchor="start" stroke="#2e2e2e" stroke-width="0.08" textLength="22.5" lengthAdjust="spacingAndGlyphs" >r = 0.25</text>
<text x="309.1" y="360.8" font-size="6.3" fill="#2e2e2e" text-anchor="start" stroke="#2e2e2e" stroke-width="0.08" textLength="19.4" lengthAdjust="spacingAndGlyphs" ><tspan font-style="italic">P</tspan> = .05</text>
<text x="309.1" y="368.5" font-size="6.3" fill="#2e2e2e" text-anchor="start" stroke="#2e2e2e" stroke-width="0.08" textLength="18.4" lengthAdjust="spacingAndGlyphs" >n = 65</text>
<text x="352.6" y="291.8" font-size="11.2" fill="#111" text-anchor="start" stroke="#111" stroke-width="0.08" font-weight="bold" textLength="2.9" lengthAdjust="spacingAndGlyphs" >I</text>
<text x="446.0" y="294.8" font-size="8.2" fill="#2e2e2e" text-anchor="middle" stroke="#2e2e2e" stroke-width="0.12" textLength="118" lengthAdjust="spacing" >Baseline bone marrow disease</text>
<text x="446.0" y="305.4" font-size="8.2" fill="#2e2e2e" text-anchor="middle" stroke="#2e2e2e" stroke-width="0.12" textLength="95" lengthAdjust="spacing" >and days of neutropenia</text>
<rect x="402.75" y="310.65" width="1.5" height="1.5" fill="#7a82a3"/>
<rect x="421.25" y="313.15" width="1.5" height="1.5" fill="#7a82a3"/>
<rect x="432.95" y="316.45" width="1.5" height="1.5" fill="#7a82a3"/>
<rect x="413.65" y="316.45" width="1.5" height="1.5" fill="#7a82a3"/>
<rect x="417.85" y="318.95" width="1.5" height="1.5" fill="#7a82a3"/>
<rect x="406.95" y="320.65" width="1.5" height="1.5" fill="#7a82a3"/>
<rect x="433.75" y="320.65" width="1.5" height="1.5" fill="#7a82a3"/>
<rect x="438.85" y="323.15" width="1.5" height="1.5" fill="#7a82a3"/>
<rect x="443.85" y="326.55" width="1.5" height="1.5" fill="#7a82a3"/>
<rect x="419.55" y="326.55" width="1.5" height="1.5" fill="#7a82a3"/>
<rect x="424.55" y="326.55" width="1.5" height="1.5" fill="#7a82a3"/>
<rect x="424.55" y="329.05" width="1.5" height="1.5" fill="#7a82a3"/>
<rect x="416.25" y="328.65" width="1.5" height="1.5" fill="#7a82a3"/>
<rect x="428.75" y="330.75" width="1.5" height="1.5" fill="#7a82a3"/>
<rect x="422.05" y="332.35" width="1.5" height="1.5" fill="#7a82a3"/>
<rect x="402.75" y="336.55" width="1.5" height="1.5" fill="#7a82a3"/>
<rect x="432.15" y="336.55" width="1.5" height="1.5" fill="#7a82a3"/>
<rect x="399.45" y="342.45" width="1.5" height="1.5" fill="#7a82a3"/>
<rect x="403.65" y="344.95" width="1.5" height="1.5" fill="#7a82a3"/>
<rect x="402.75" y="346.65" width="1.5" height="1.5" fill="#7a82a3"/>
<rect x="412.05" y="346.65" width="1.5" height="1.5" fill="#7a82a3"/>
<rect x="421.25" y="352.45" width="1.5" height="1.5" fill="#7a82a3"/>
<rect x="433.75" y="356.65" width="1.5" height="1.5" fill="#7a82a3"/>
<rect x="402.75" y="357.55" width="1.5" height="1.5" fill="#7a82a3"/>
<rect x="436.25" y="360.85" width="1.5" height="1.5" fill="#7a82a3"/>
<rect x="401.95" y="362.55" width="1.5" height="1.5" fill="#7a82a3"/>
<rect x="401.15" y="365.05" width="1.5" height="1.5" fill="#7a82a3"/>
<rect x="400.25" y="366.75" width="1.5" height="1.5" fill="#7a82a3"/>
<rect x="406.95" y="370.05" width="1.5" height="1.5" fill="#7a82a3"/>
<rect x="454.15" y="310.25" width="1.5" height="1.5" fill="#7a82a3"/>
<rect x="455.85" y="310.25" width="1.5" height="1.5" fill="#7a82a3"/>
<rect x="459.15" y="310.25" width="1.5" height="1.5" fill="#7a82a3"/>
<rect x="461.65" y="310.25" width="1.5" height="1.5" fill="#7a82a3"/>
<rect x="468.35" y="310.25" width="1.5" height="1.5" fill="#7a82a3"/>
<rect x="470.85" y="310.25" width="1.5" height="1.5" fill="#7a82a3"/>
<rect x="473.45" y="310.25" width="1.5" height="1.5" fill="#7a82a3"/>
<rect x="480.15" y="310.25" width="1.5" height="1.5" fill="#7a82a3"/>
<rect x="482.65" y="310.25" width="1.5" height="1.5" fill="#7a82a3"/>
<rect x="485.15" y="310.25" width="1.5" height="1.5" fill="#7a82a3"/>
<rect x="487.65" y="310.25" width="1.5" height="1.5" fill="#7a82a3"/>
<rect x="490.15" y="310.25" width="1.5" height="1.5" fill="#7a82a3"/>
<rect x="459.15" y="312.25" width="1.5" height="1.5" fill="#7a82a3"/>
<rect x="462.55" y="313.15" width="1.5" height="1.5" fill="#7a82a3"/>
<rect x="471.75" y="313.95" width="1.5" height="1.5" fill="#7a82a3"/>
<rect x="488.45" y="313.95" width="1.5" height="1.5" fill="#7a82a3"/>
<rect x="445.75" y="318.95" width="1.5" height="1.5" fill="#7a82a3"/>
<rect x="451.65" y="320.65" width="1.5" height="1.5" fill="#7a82a3"/>
<rect x="456.65" y="319.85" width="1.5" height="1.5" fill="#7a82a3"/>
<rect x="458.35" y="322.35" width="1.5" height="1.5" fill="#7a82a3"/>
<rect x="463.35" y="320.65" width="1.5" height="1.5" fill="#7a82a3"/>
<rect x="470.05" y="318.95" width="1.5" height="1.5" fill="#7a82a3"/>
<rect x="476.75" y="318.95" width="1.5" height="1.5" fill="#7a82a3"/>
<rect x="456.65" y="324.05" width="1.5" height="1.5" fill="#7a82a3"/>
<rect x="446.65" y="328.15" width="1.5" height="1.5" fill="#7a82a3"/>
<rect x="465.05" y="326.55" width="1.5" height="1.5" fill="#7a82a3"/>
<rect x="472.55" y="336.55" width="1.5" height="1.5" fill="#7a82a3"/>
<rect x="477.55" y="336.55" width="1.5" height="1.5" fill="#7a82a3"/>
<rect x="461.65" y="342.45" width="1.5" height="1.5" fill="#7a82a3"/>
<rect x="480.15" y="342.45" width="1.5" height="1.5" fill="#7a82a3"/>
<rect x="484.25" y="344.15" width="1.5" height="1.5" fill="#7a82a3"/>
<rect x="487.65" y="346.65" width="1.5" height="1.5" fill="#7a82a3"/>
<rect x="452.45" y="344.15" width="1.5" height="1.5" fill="#7a82a3"/>
<rect x="461.65" y="352.45" width="1.5" height="1.5" fill="#7a82a3"/>
<rect x="468.35" y="355.85" width="1.5" height="1.5" fill="#7a82a3"/>
<rect x="474.25" y="355.85" width="1.5" height="1.5" fill="#7a82a3"/>
<rect x="480.15" y="355.85" width="1.5" height="1.5" fill="#7a82a3"/>
<rect x="450.75" y="360.55" width="1.5" height="1.5" fill="#7a82a3"/>
<rect x="474.25" y="364.25" width="1.5" height="1.5" fill="#7a82a3"/>
<rect x="480.15" y="365.85" width="1.5" height="1.5" fill="#7a82a3"/>
<rect x="469.25" y="367.85" width="1.5" height="1.5" fill="#7a82a3"/>
<rect x="397.25" y="367.25" width="1.5" height="1.5" fill="#7a82a3"/>
<rect x="397.25" y="370.25" width="1.5" height="1.5" fill="#7a82a3"/>
<clipPath id="clipI"><rect x="396.9" y="310.0" width="97.10000000000002" height="62.89999999999998"/></clipPath>
<g clip-path="url(#clipI)">
<polygon fill="#b6bcdc" points="397.00,352.38 399.36,351.66 401.72,350.94 404.08,350.22 406.44,349.49 408.80,348.76 411.16,348.02 413.52,347.27 415.88,346.52 418.24,345.76 420.60,344.99 422.96,344.21 425.32,343.43 427.68,342.63 430.04,341.82 432.40,340.99 434.76,340.15 437.12,339.30 439.48,338.44 441.84,337.56 444.20,336.66 446.56,335.75 448.92,334.83 451.28,333.89 453.64,332.94 456.00,331.98 458.36,331.01 460.72,330.03 463.08,329.04 465.44,328.04 467.80,327.04 470.16,326.03 472.52,325.01 474.88,323.99 477.24,322.96 479.60,321.93 481.96,320.90 484.32,319.86 486.68,318.82 489.04,317.77 491.40,316.73 491.40,327.18 489.04,327.89 486.68,328.60 484.32,329.31 481.96,330.02 479.60,330.74 477.24,331.46 474.88,332.19 472.52,332.92 470.16,333.66 467.80,334.40 465.44,335.15 463.08,335.90 460.72,336.67 458.36,337.44 456.00,338.22 453.64,339.01 451.28,339.82 448.92,340.63 446.56,341.46 444.20,342.31 441.84,343.17 439.48,344.04 437.12,344.92 434.76,345.83 432.40,346.74 430.04,347.67 427.68,348.61 425.32,349.57 422.96,350.53 420.60,351.51 418.24,352.49 415.88,353.48 413.52,354.49 411.16,355.49 408.80,356.51 406.44,357.53 404.08,358.55 401.72,359.58 399.36,360.61 397.00,361.65"/>
<polyline fill="none" stroke="#56679f" stroke-width="0.7" stroke-dasharray="1.2,0.8" points="397.00,352.38 399.36,351.66 401.72,350.94 404.08,350.22 406.44,349.49 408.80,348.76 411.16,348.02 413.52,347.27 415.88,346.52 418.24,345.76 420.60,344.99 422.96,344.21 425.32,343.43 427.68,342.63 430.04,341.82 432.40,340.99 434.76,340.15 437.12,339.30 439.48,338.44 441.84,337.56 444.20,336.66 446.56,335.75 448.92,334.83 451.28,333.89 453.64,332.94 456.00,331.98 458.36,331.01 460.72,330.03 463.08,329.04 465.44,328.04 467.80,327.04 470.16,326.03 472.52,325.01 474.88,323.99 477.24,322.96 479.60,321.93 481.96,320.90 484.32,319.86 486.68,318.82 489.04,317.77 491.40,316.73"/>
<polyline fill="none" stroke="#56679f" stroke-width="0.7" stroke-dasharray="1.2,0.8" points="397.00,361.65 399.36,360.61 401.72,359.58 404.08,358.55 406.44,357.53 408.80,356.51 411.16,355.49 413.52,354.49 415.88,353.48 418.24,352.49 420.60,351.51 422.96,350.53 425.32,349.57 427.68,348.61 430.04,347.67 432.40,346.74 434.76,345.83 437.12,344.92 439.48,344.04 441.84,343.17 444.20,342.31 446.56,341.46 448.92,340.63 451.28,339.82 453.64,339.01 456.00,338.22 458.36,337.44 460.72,336.67 463.08,335.90 465.44,335.15 467.80,334.40 470.16,333.66 472.52,332.92 474.88,332.19 477.24,331.46 479.60,330.74 481.96,330.02 484.32,329.31 486.68,328.60 489.04,327.89 491.40,327.18"/>
<line x1="397.0" y1="357.0143009605123" x2="491.4" y2="321.9543223052294" stroke="#2a3d6a" stroke-width="1.25" />
</g>
<line x1="396.9" y1="310.0" x2="396.9" y2="373.59999999999997" stroke="#222222" stroke-width="1.4" />
<line x1="396.2" y1="372.9" x2="494.0" y2="372.9" stroke="#222222" stroke-width="1.4" />
<line x1="393.59999999999997" y1="372.9" x2="396.9" y2="372.9" stroke="#222222" stroke-width="1.2" />
<text x="390.9" y="375.09999999999997" font-size="6.3" fill="#2e2e2e" text-anchor="end" stroke="#2e2e2e" stroke-width="0.08" >0</text>
<line x1="393.59999999999997" y1="353.09999999999997" x2="396.9" y2="353.09999999999997" stroke="#222222" stroke-width="1.2" />
<text x="390.9" y="355.29999999999995" font-size="6.3" fill="#2e2e2e" text-anchor="end" stroke="#2e2e2e" stroke-width="0.08" >10</text>
<line x1="393.59999999999997" y1="333.29999999999995" x2="396.9" y2="333.29999999999995" stroke="#222222" stroke-width="1.2" />
<text x="390.9" y="335.49999999999994" font-size="6.3" fill="#2e2e2e" text-anchor="end" stroke="#2e2e2e" stroke-width="0.08" >20</text>
<line x1="393.59999999999997" y1="313.5" x2="396.9" y2="313.5" stroke="#222222" stroke-width="1.2" />
<text x="390.9" y="315.7" font-size="6.3" fill="#2e2e2e" text-anchor="end" stroke="#2e2e2e" stroke-width="0.08" >30</text>
<line x1="396.9" y1="372.9" x2="396.9" y2="375.9" stroke="#222222" stroke-width="1.2" />
<text x="396.9" y="385.0" font-size="6.3" fill="#2e2e2e" text-anchor="middle" stroke="#2e2e2e" stroke-width="0.08" >0</text>
<line x1="415.5" y1="372.9" x2="415.5" y2="375.9" stroke="#222222" stroke-width="1.2" />
<text x="415.5" y="385.0" font-size="6.3" fill="#2e2e2e" text-anchor="middle" stroke="#2e2e2e" stroke-width="0.08" >20</text>
<line x1="434.09999999999997" y1="372.9" x2="434.09999999999997" y2="375.9" stroke="#222222" stroke-width="1.2" />
<text x="434.09999999999997" y="385.0" font-size="6.3" fill="#2e2e2e" text-anchor="middle" stroke="#2e2e2e" stroke-width="0.08" >40</text>
<line x1="452.7" y1="372.9" x2="452.7" y2="375.9" stroke="#222222" stroke-width="1.2" />
<text x="452.7" y="385.0" font-size="6.3" fill="#2e2e2e" text-anchor="middle" stroke="#2e2e2e" stroke-width="0.08" >60</text>
<line x1="471.29999999999995" y1="372.9" x2="471.29999999999995" y2="375.9" stroke="#222222" stroke-width="1.2" />
<text x="471.29999999999995" y="385.0" font-size="6.3" fill="#2e2e2e" text-anchor="middle" stroke="#2e2e2e" stroke-width="0.08" >80</text>
<line x1="489.9" y1="372.9" x2="489.9" y2="375.9" stroke="#222222" stroke-width="1.2" />
<text x="489.9" y="385.0" font-size="6.3" fill="#2e2e2e" text-anchor="middle" stroke="#2e2e2e" stroke-width="0.08" >100</text>
<text transform="translate(368.9,341.0) rotate(-90)" x="0" y="0" font-size="9" fill="#2e2e2e" text-anchor="middle" stroke="#2e2e2e" stroke-width="0.08" textLength="58" lengthAdjust="spacingAndGlyphs" >Cumulative days of</text>
<text transform="translate(378.9,341.0) rotate(-90)" x="0" y="0" font-size="9" fill="#2e2e2e" text-anchor="middle" stroke="#2e2e2e" stroke-width="0.08" textLength="67" lengthAdjust="spacingAndGlyphs" >neutropenia (D0-D30)</text>
<text x="445.8" y="397.09999999999997" font-size="9.3" fill="#2e2e2e" text-anchor="middle" stroke="#2e2e2e" stroke-width="0.08" textLength="77.6" lengthAdjust="spacingAndGlyphs" >Disease burden in BM (%)</text>
<text x="485.8" y="353.8" font-size="6.3" fill="#2e2e2e" text-anchor="start" stroke="#2e2e2e" stroke-width="0.08" textLength="22.5" lengthAdjust="spacingAndGlyphs" >r = 0.64</text>
<text x="485.8" y="361.2" font-size="6.3" fill="#2e2e2e" text-anchor="start" stroke="#2e2e2e" stroke-width="0.08" textLength="26.4" lengthAdjust="spacingAndGlyphs" ><tspan font-style="italic">P</tspan> &lt; .0001</text>
<text x="485.8" y="369.0" font-size="6.3" fill="#2e2e2e" text-anchor="start" stroke="#2e2e2e" stroke-width="0.08" textLength="21.6" lengthAdjust="spacingAndGlyphs" >n = 151</text>
<rect x="0" y="0" width="520" height="1" fill="#666"/>
<rect x="0" y="0" width="1" height="406" fill="#5c5c5c"/>
<rect x="519" y="0" width="1" height="406" fill="#3a3a3a"/>
<rect x="0" y="404.4" width="520" height="1.6" fill="#2e2e2e"/>
</svg>
</body></html>
